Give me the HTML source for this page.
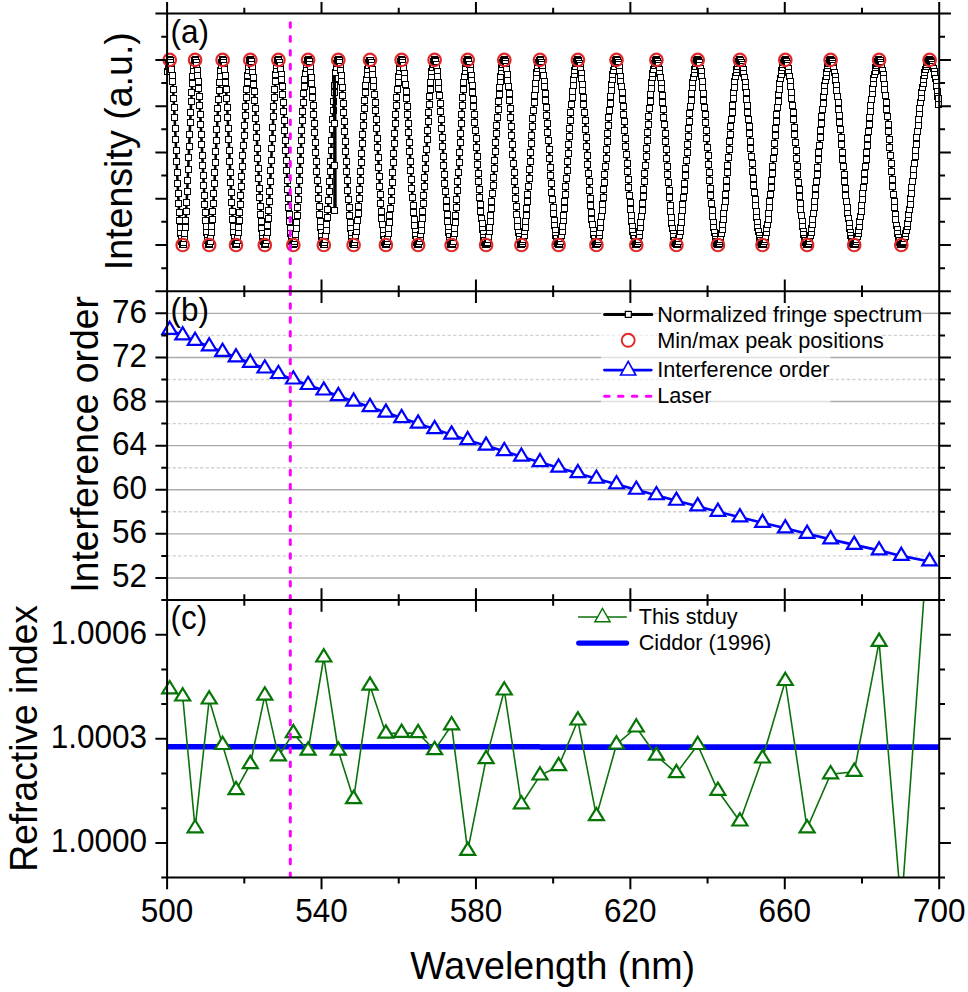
<!DOCTYPE html><html><head><meta charset="utf-8"><style>html,body{margin:0;padding:0;background:#fff;width:968px;height:992px;overflow:hidden}svg{display:block}text{font-family:"Liberation Sans",sans-serif;fill:#000}</style></head><body>
<svg width="968" height="992" viewBox="0 0 968 992">
<defs><clipPath id="ca"><rect x="167.1" y="13.6" width="772.1" height="277.7"/></clipPath><clipPath id="cb"><rect x="167.1" y="291.3" width="772.1" height="308.7"/></clipPath><clipPath id="cc"><rect x="167.1" y="600.0" width="772.1" height="277.6"/></clipPath></defs>
<rect width="968" height="992" fill="#fff"/>
<line x1="167.1" y1="577.95" x2="939.2" y2="577.95" stroke="#aaaaaa" stroke-width="1.4"/>
<line x1="167.1" y1="555.90" x2="939.2" y2="555.90" stroke="#d2d2d2" stroke-width="1.4" stroke-dasharray="3.3 2.2"/>
<line x1="167.1" y1="533.85" x2="939.2" y2="533.85" stroke="#aaaaaa" stroke-width="1.4"/>
<line x1="167.1" y1="511.80" x2="939.2" y2="511.80" stroke="#d2d2d2" stroke-width="1.4" stroke-dasharray="3.3 2.2"/>
<line x1="167.1" y1="489.75" x2="939.2" y2="489.75" stroke="#aaaaaa" stroke-width="1.4"/>
<line x1="167.1" y1="467.70" x2="939.2" y2="467.70" stroke="#d2d2d2" stroke-width="1.4" stroke-dasharray="3.3 2.2"/>
<line x1="167.1" y1="445.65" x2="939.2" y2="445.65" stroke="#aaaaaa" stroke-width="1.4"/>
<line x1="167.1" y1="423.60" x2="939.2" y2="423.60" stroke="#d2d2d2" stroke-width="1.4" stroke-dasharray="3.3 2.2"/>
<line x1="167.1" y1="401.55" x2="601" y2="401.55" stroke="#aaaaaa" stroke-width="1.4"/>
<line x1="601" y1="401.55" x2="830.3" y2="401.55" stroke="#e0e0e0" stroke-width="1.4"/>
<line x1="830.3" y1="401.55" x2="939.2" y2="401.55" stroke="#aaaaaa" stroke-width="1.4"/>
<line x1="167.1" y1="379.50" x2="601" y2="379.50" stroke="#d2d2d2" stroke-width="1.4" stroke-dasharray="3.3 2.2"/>
<line x1="601" y1="379.50" x2="830.3" y2="379.50" stroke="#ededed" stroke-width="1.4" stroke-dasharray="3.3 2.2"/>
<line x1="830.3" y1="379.50" x2="939.2" y2="379.50" stroke="#d2d2d2" stroke-width="1.4" stroke-dasharray="3.3 2.2"/>
<line x1="167.1" y1="357.45" x2="601" y2="357.45" stroke="#aaaaaa" stroke-width="1.4"/>
<line x1="601" y1="357.45" x2="830.3" y2="357.45" stroke="#e0e0e0" stroke-width="1.4"/>
<line x1="830.3" y1="357.45" x2="939.2" y2="357.45" stroke="#aaaaaa" stroke-width="1.4"/>
<line x1="167.1" y1="335.40" x2="601" y2="335.40" stroke="#d2d2d2" stroke-width="1.4" stroke-dasharray="3.3 2.2"/>
<line x1="601" y1="335.40" x2="882.7" y2="335.40" stroke="#ededed" stroke-width="1.4" stroke-dasharray="3.3 2.2"/>
<line x1="882.7" y1="335.40" x2="939.2" y2="335.40" stroke="#d2d2d2" stroke-width="1.4" stroke-dasharray="3.3 2.2"/>
<line x1="167.1" y1="313.35" x2="601" y2="313.35" stroke="#aaaaaa" stroke-width="1.4"/>
<line x1="601" y1="313.35" x2="921.8" y2="313.35" stroke="#e0e0e0" stroke-width="1.4"/>
<line x1="921.8" y1="313.35" x2="939.2" y2="313.35" stroke="#aaaaaa" stroke-width="1.4"/>
<g clip-path="url(#ca)">
<polyline points="167.60,71.56 168.10,66.73 168.60,63.15 169.10,60.87 169.60,59.93 170.10,60.33 170.60,62.09 171.10,65.16 171.60,69.51 172.10,75.08 172.60,81.78 173.11,89.51 173.61,98.16 174.11,107.61 174.61,117.72 175.11,128.34 175.61,139.32 176.11,150.49 176.61,161.68 177.12,172.75 177.62,183.52 178.12,193.83 178.62,203.54 179.12,212.50 179.62,220.58 180.13,227.66 180.63,233.64 181.13,238.42 181.63,241.93 182.13,244.14 182.64,244.99 183.14,244.43 183.64,242.38 184.14,238.87 184.65,233.97 185.15,227.74 185.65,220.29 186.16,211.74 186.66,202.23 187.16,191.91 187.66,180.95 188.17,169.52 188.67,157.82 189.17,146.02 189.68,134.33 190.18,122.93 190.68,112.01 191.19,101.74 191.69,92.30 192.20,83.84 192.70,76.49 193.20,70.37 193.71,65.59 194.21,62.23 194.72,60.34 195.22,59.93 195.73,60.80 196.23,62.82 196.73,65.97 197.24,70.21 197.74,75.50 198.25,81.75 198.75,88.90 199.26,96.86 199.76,105.52 200.27,114.77 200.77,124.51 201.28,134.60 201.78,144.91 202.29,155.32 202.79,165.70 203.30,175.92 203.81,185.83 204.31,195.33 204.82,204.28 205.32,212.57 205.83,220.11 206.34,226.78 206.84,232.51 207.35,237.23 207.85,240.87 208.36,243.39 208.87,244.75 209.37,244.92 209.88,243.83 210.39,241.44 210.89,237.80 211.40,232.96 211.91,226.98 212.41,219.94 212.92,211.96 213.43,203.13 213.94,193.58 214.44,183.46 214.95,172.89 215.46,162.03 215.97,151.04 216.47,140.06 216.98,129.26 217.49,118.78 218.00,108.78 218.50,99.39 219.01,90.76 219.52,83.00 220.03,76.22 220.54,70.52 221.04,65.98 221.55,62.67 222.06,60.64 222.57,59.90 223.08,60.48 223.59,62.37 224.10,65.54 224.61,69.94 225.11,75.52 225.62,82.19 226.13,89.86 226.64,98.43 227.15,107.77 227.66,117.74 228.17,128.21 228.68,139.03 229.19,150.04 229.70,161.08 230.21,172.01 230.72,182.65 231.23,192.87 231.74,202.51 232.25,211.44 232.76,219.53 233.27,226.66 233.78,232.73 234.29,237.65 234.80,241.36 235.31,243.79 235.82,244.92 236.33,244.76 236.84,243.42 237.35,240.94 237.86,237.35 238.37,232.69 238.89,227.01 239.40,220.40 239.91,212.93 240.42,204.69 240.93,195.80 241.44,186.36 241.95,176.49 242.47,166.31 242.98,155.96 243.49,145.56 244.00,135.24 244.51,125.14 245.03,115.39 245.54,106.10 246.05,97.40 246.56,89.39 247.07,82.18 247.59,75.86 248.10,70.51 248.61,66.19 249.12,62.97 249.64,60.88 250.15,59.95 250.66,60.19 251.18,61.56 251.69,64.06 252.20,67.65 252.72,72.29 253.23,77.92 253.74,84.47 254.26,91.86 254.77,100.00 255.28,108.80 255.80,118.13 256.31,127.89 256.82,137.96 257.34,148.21 257.85,158.51 258.37,168.74 258.88,178.77 259.40,188.47 259.91,197.73 260.42,206.42 260.94,214.45 261.45,221.71 261.97,228.11 262.48,233.58 263.00,238.03 263.51,241.42 264.03,243.71 264.54,244.86 265.06,244.84 265.57,243.53 266.09,240.93 266.60,237.09 267.12,232.04 267.63,225.86 268.15,218.64 268.67,210.49 269.18,201.51 269.70,191.83 270.21,181.59 270.73,170.94 271.25,160.02 271.76,148.99 272.28,138.01 272.79,127.24 273.31,116.82 273.83,106.90 274.34,97.64 274.86,89.15 275.38,81.56 275.89,74.98 276.41,69.50 276.93,65.20 277.45,62.14 277.96,60.37 278.48,59.91 279.00,60.63 279.51,62.44 280.03,65.33 280.55,69.24 281.07,74.15 281.58,80.00 282.10,86.70 282.62,94.19 283.14,102.38 283.66,111.16 284.17,120.44 284.69,130.10 285.21,140.02 285.73,150.10 286.25,160.21 286.77,170.23 287.29,180.03 287.80,189.51 288.32,198.55 288.84,207.03 289.36,214.87 289.88,221.96 290.40,228.22 290.92,233.57 291.44,237.95 291.96,241.31 292.48,243.61 293.00,244.81 293.51,244.90 294.03,243.88 294.55,241.74 295.07,238.51 295.59,234.24 296.11,228.97 296.63,222.77 297.15,215.71 297.67,207.88 298.19,199.38 298.72,190.30 299.24,180.76 299.76,170.87 300.28,160.75 300.80,150.53 301.32,140.34 301.84,130.29 302.36,120.50 302.88,111.11 303.40,102.22 303.92,93.95 304.44,86.39 304.97,79.63 305.49,73.77 306.01,68.87 306.53,64.99 307.05,62.18 307.57,60.48 308.10,59.90 308.62,60.40 309.14,61.90 309.66,64.39 310.18,67.83 310.71,72.21 311.23,77.46 311.75,83.52 312.27,90.35 312.80,97.85 313.32,105.95 313.84,114.56 314.36,123.58 314.89,132.92 315.41,142.48 315.93,152.15 316.46,161.82 316.98,171.39 317.50,180.76 318.03,189.81 318.55,198.46 319.07,206.61 319.60,214.16 320.12,221.04 320.64,227.16 321.17,232.47 321.69,236.89 322.22,240.39 322.74,242.93 323.27,244.47 323.79,245.00 324.31,244.43 324.84,242.67 325.36,239.74 325.89,235.69 326.41,230.57 326.94,224.43 327.46,217.37 327.99,209.46 328.51,200.82 329.04,191.55 329.56,181.77 330.09,171.61 330.61,161.21 331.14,150.68 331.66,140.18 332.19,129.84 332.71,119.79 333.24,110.15 333.77,101.07 334.29,92.65 334.82,85.01 335.34,78.24 335.87,72.43 336.40,67.66 336.92,63.99 337.45,61.47 337.98,60.13 338.50,59.98 339.03,60.94 339.56,62.96 340.08,66.03 340.61,70.12 341.14,75.16 341.66,81.11 342.19,87.90 342.72,95.44 343.25,103.66 343.77,112.44 344.30,121.70 344.83,131.32 345.36,141.18 345.88,151.18 346.41,161.20 346.94,171.12 347.47,180.82 348.00,190.18 348.52,199.11 349.05,207.49 349.58,215.22 350.11,222.21 350.64,228.39 351.17,233.67 351.69,238.00 352.22,241.32 352.75,243.60 353.28,244.80 353.81,244.93 354.34,244.08 354.87,242.29 355.40,239.57 355.93,235.97 356.46,231.50 356.98,226.22 357.51,220.18 358.04,213.45 358.57,206.08 359.10,198.16 359.63,189.77 360.16,181.00 360.69,171.93 361.22,162.66 361.75,153.28 362.28,143.89 362.81,134.59 363.34,125.47 363.87,116.63 364.41,108.15 364.94,100.13 365.47,92.65 366.00,85.79 366.53,79.62 367.06,74.20 367.59,69.58 368.12,65.82 368.65,62.96 369.18,61.03 369.72,60.04 370.25,60.01 370.78,60.99 371.31,62.99 371.84,65.97 372.37,69.90 372.91,74.75 373.44,80.45 373.97,86.95 374.50,94.17 375.03,102.04 375.57,110.47 376.10,119.36 376.63,128.62 377.16,138.15 377.70,147.83 378.23,157.57 378.76,167.25 379.30,176.77 379.83,186.02 380.36,194.91 380.90,203.32 381.43,211.17 381.96,218.37 382.50,224.83 383.03,230.50 383.56,235.30 384.10,239.18 384.63,242.10 385.16,244.02 385.70,244.93 386.23,244.80 386.77,243.62 387.30,241.39 387.83,238.16 388.37,233.94 388.90,228.79 389.44,222.77 389.97,215.94 390.51,208.39 391.04,200.20 391.58,191.46 392.11,182.27 392.65,172.73 393.18,162.97 393.72,153.08 394.25,143.18 394.79,133.39 395.32,123.82 395.86,114.57 396.39,105.75 396.93,97.47 397.46,89.82 398.00,82.89 398.54,76.76 399.07,71.49 399.61,67.15 400.14,63.80 400.68,61.46 401.22,60.17 401.75,59.94 402.29,60.70 402.83,62.41 403.36,65.07 403.90,68.63 404.44,73.07 404.97,78.34 405.51,84.39 406.05,91.15 406.58,98.55 407.12,106.51 407.66,114.96 408.20,123.80 408.73,132.94 409.27,142.28 409.81,151.74 410.35,161.20 410.89,170.57 411.42,179.76 411.96,188.65 412.50,197.18 413.04,205.23 413.58,212.73 414.11,219.60 414.65,225.76 415.19,231.16 415.73,235.73 416.27,239.43 416.81,242.21 417.35,244.05 417.88,244.92 418.42,244.82 418.96,243.75 419.50,241.72 420.04,238.75 420.58,234.87 421.12,230.12 421.66,224.55 422.20,218.22 422.74,211.19 423.28,203.55 423.82,195.36 424.36,186.72 424.90,177.71 425.44,168.44 425.98,159.00 426.52,149.48 427.06,140.00 427.60,130.64 428.14,121.52 428.68,112.72 429.22,104.34 429.76,96.47 430.30,89.19 430.84,82.58 431.38,76.71 431.93,71.64 432.47,67.43 433.01,64.12 433.55,61.75 434.09,60.33 434.63,59.90 435.17,60.42 435.72,61.86 436.26,64.21 436.80,67.44 437.34,71.52 437.88,76.42 438.43,82.08 438.97,88.44 439.51,95.45 440.05,103.03 440.59,111.11 441.14,119.61 441.68,128.44 442.22,137.51 442.77,146.73 443.31,156.01 443.85,165.25 444.39,174.37 444.94,183.27 445.48,191.86 446.02,200.06 446.57,207.77 447.11,214.93 447.65,221.46 448.20,227.30 448.74,232.38 449.29,236.66 449.83,240.09 450.37,242.63 450.92,244.26 451.46,244.97 452.01,244.71 452.55,243.42 453.09,241.09 453.64,237.77 454.18,233.49 454.73,228.29 455.27,222.24 455.82,215.39 456.36,207.84 456.91,199.65 457.45,190.94 458.00,181.78 458.54,172.29 459.09,162.58 459.63,152.75 460.18,142.92 460.72,133.19 461.27,123.68 461.82,114.49 462.36,105.73 462.91,97.50 463.45,89.90 464.00,83.00 464.55,76.88 465.09,71.63 465.64,67.29 466.18,63.92 466.73,61.55 467.28,60.21 467.82,59.92 468.37,60.51 468.92,61.89 469.47,64.07 470.01,67.02 470.56,70.71 471.11,75.12 471.65,80.20 472.20,85.91 472.75,92.20 473.30,99.03 473.84,106.31 474.39,114.01 474.94,122.04 475.49,130.34 476.03,138.83 476.58,147.44 477.13,156.10 477.68,164.73 478.23,173.25 478.78,181.59 479.32,189.67 479.87,197.44 480.42,204.80 480.97,211.71 481.52,218.11 482.07,223.92 482.62,229.11 483.17,233.63 483.72,237.43 484.26,240.49 484.81,242.78 485.36,244.27 485.91,244.95 486.46,244.82 487.01,243.86 487.56,242.07 488.11,239.48 488.66,236.10 489.21,231.97 489.76,227.12 490.31,221.60 490.86,215.46 491.41,208.74 491.96,201.52 492.51,193.85 493.06,185.81 493.61,177.47 494.17,168.90 494.72,160.17 495.27,151.38 495.82,142.60 496.37,133.90 496.92,125.37 497.47,117.08 498.02,109.12 498.57,101.54 499.13,94.42 499.68,87.83 500.23,81.82 500.78,76.46 501.33,71.78 501.88,67.83 502.44,64.64 502.99,62.26 503.54,60.69 504.09,59.96 504.65,60.09 505.20,61.16 505.75,63.17 506.30,66.10 506.86,69.92 507.41,74.59 507.96,80.07 508.52,86.29 509.07,93.20 509.62,100.72 510.17,108.77 510.73,117.28 511.28,126.15 511.83,135.29 512.39,144.61 512.94,154.02 513.50,163.41 514.05,172.69 514.60,181.76 515.16,190.53 515.71,198.90 516.27,206.80 516.82,214.13 517.37,220.83 517.93,226.81 518.48,232.03 519.04,236.43 519.59,239.95 520.15,242.56 520.70,244.24 521.26,244.97 521.81,244.77 522.37,243.77 522.92,241.95 523.48,239.35 524.03,235.99 524.59,231.89 525.15,227.09 525.70,221.64 526.26,215.57 526.81,208.95 527.37,201.82 527.92,194.27 528.48,186.34 529.04,178.11 529.59,169.65 530.15,161.05 530.71,152.36 531.26,143.67 531.82,135.06 532.38,126.60 532.93,118.37 533.49,110.44 534.05,102.88 534.60,95.76 535.16,89.14 535.72,83.07 536.28,77.62 536.83,72.83 537.39,68.75 537.95,65.41 538.51,62.83 539.06,61.06 539.62,60.09 540.18,59.94 540.74,60.62 541.29,62.10 541.85,64.40 542.41,67.47 542.97,71.30 543.53,75.85 544.09,81.08 544.65,86.95 545.20,93.41 545.76,100.39 546.32,107.83 546.88,115.67 547.44,123.84 548.00,132.27 548.56,140.88 549.12,149.59 549.68,158.33 550.24,167.02 550.80,175.58 551.36,183.94 551.92,192.01 552.47,199.73 553.03,207.04 553.59,213.85 554.15,220.12 554.72,225.78 555.28,230.79 555.84,235.09 556.40,238.66 556.96,241.46 557.52,243.46 558.08,244.64 558.64,245.00 559.20,244.56 559.76,243.35 560.32,241.39 560.88,238.68 561.44,235.26 562.01,231.14 562.57,226.37 563.13,220.98 563.69,215.01 564.25,208.52 564.81,201.57 565.38,194.20 565.94,186.48 566.50,178.47 567.06,170.25 567.62,161.88 568.19,153.42 568.75,144.96 569.31,136.56 569.87,128.28 570.44,120.22 571.00,112.42 571.56,104.95 572.12,97.88 572.69,91.27 573.25,85.17 573.81,79.64 574.38,74.71 574.94,70.44 575.50,66.86 576.07,63.99 576.63,61.87 577.19,60.51 577.76,59.92 578.32,60.14 578.89,61.19 579.45,63.08 580.01,65.80 580.58,69.30 581.14,73.57 581.71,78.57 582.27,84.24 582.84,90.55 583.40,97.42 583.96,104.79 584.53,112.61 585.09,120.80 585.66,129.27 586.22,137.96 586.79,146.79 587.35,155.67 587.92,164.52 588.49,173.26 589.05,181.81 589.62,190.10 590.18,198.03 590.75,205.55 591.31,212.58 591.88,219.05 592.45,224.91 593.01,230.10 593.58,234.58 594.14,238.30 594.71,241.22 595.28,243.32 595.84,244.59 596.41,245.00 596.98,244.62 597.54,243.52 598.11,241.71 598.68,239.19 599.25,236.00 599.81,232.14 600.38,227.66 600.95,222.59 601.51,216.97 602.08,210.84 602.65,204.24 603.22,197.24 603.79,189.89 604.35,182.24 604.92,174.35 605.49,166.29 606.06,158.12 606.63,149.91 607.19,141.71 607.76,133.60 608.33,125.63 608.90,117.87 609.47,110.39 610.04,103.24 610.61,96.47 611.17,90.15 611.74,84.31 612.31,79.02 612.88,74.30 613.45,70.21 614.02,66.76 614.59,63.99 615.16,61.92 615.73,60.57 616.30,59.95 616.87,60.06 617.44,60.93 618.01,62.54 618.58,64.89 619.15,67.96 619.72,71.72 620.29,76.14 620.86,81.18 621.43,86.81 622.00,92.98 622.57,99.64 623.14,106.73 623.71,114.20 624.29,121.98 624.86,130.01 625.43,138.23 626.00,146.56 626.57,154.95 627.14,163.32 627.71,171.59 628.28,179.72 628.86,187.62 629.43,195.23 630.00,202.49 630.57,209.34 631.14,215.72 631.72,221.58 632.29,226.88 632.86,231.56 633.43,235.59 634.01,238.94 634.58,241.57 635.15,243.47 635.72,244.61 636.30,245.00 636.87,244.63 637.44,243.53 638.02,241.69 638.59,239.14 639.16,235.89 639.74,231.97 640.31,227.42 640.88,222.26 641.46,216.53 642.03,210.30 642.60,203.59 643.18,196.48 643.75,189.01 644.33,181.24 644.90,173.24 645.47,165.07 646.05,156.80 646.62,148.50 647.20,140.22 647.77,132.04 648.35,124.02 648.92,116.24 649.50,108.74 650.07,101.59 650.65,94.86 651.22,88.59 651.80,82.83 652.37,77.64 652.95,73.04 653.52,69.09 654.10,65.82 654.68,63.24 655.25,61.39 655.83,60.27 656.40,59.90 656.98,60.28 657.56,61.42 658.13,63.30 658.71,65.91 659.28,69.24 659.86,73.24 660.44,77.90 661.01,83.16 661.59,89.00 662.17,95.36 662.74,102.18 663.32,109.42 663.90,117.02 664.48,124.91 665.05,133.02 665.63,141.30 666.21,149.67 666.79,158.06 667.36,166.41 667.94,174.64 668.52,182.69 669.10,190.50 669.68,197.99 670.25,205.11 670.83,211.80 671.41,218.00 671.99,223.65 672.57,228.73 673.15,233.17 673.72,236.94 674.30,240.02 674.88,242.38 675.46,243.99 676.04,244.85 676.62,244.95 677.20,244.36 677.78,243.10 678.36,241.17 678.94,238.60 679.52,235.40 680.10,231.59 680.68,227.20 681.26,222.27 681.84,216.82 682.42,210.90 683.00,204.56 683.58,197.83 684.16,190.77 684.74,183.43 685.32,175.85 685.90,168.11 686.48,160.25 687.06,152.33 687.64,144.41 688.22,136.55 688.80,128.81 689.38,121.24 689.96,113.89 690.54,106.83 691.13,100.10 691.71,93.75 692.29,87.84 692.87,82.40 693.45,77.47 694.03,73.10 694.62,69.31 695.20,66.13 695.78,63.58 696.36,61.69 696.95,60.47 697.53,59.93 698.11,60.09 698.69,61.00 699.28,62.66 699.86,65.06 700.44,68.18 701.02,71.99 701.61,76.46 702.19,81.56 702.77,87.24 703.36,93.46 703.94,100.16 704.52,107.30 705.11,114.81 705.69,122.62 706.27,130.69 706.86,138.94 707.44,147.30 708.03,155.70 708.61,164.08 709.19,172.36 709.78,180.48 710.36,188.37 710.95,195.96 711.53,203.20 712.12,210.02 712.70,216.36 713.29,222.18 713.87,227.42 714.46,232.04 715.04,236.00 715.63,239.27 716.21,241.83 716.80,243.64 717.38,244.70 717.97,245.00 718.55,244.60 719.14,243.55 719.72,241.88 720.31,239.57 720.90,236.65 721.48,233.15 722.07,229.08 722.66,224.47 723.24,219.35 723.83,213.77 724.41,207.76 725.00,201.35 725.59,194.61 726.18,187.56 726.76,180.27 727.35,172.78 727.94,165.15 728.52,157.43 729.11,149.67 729.70,141.93 730.29,134.26 730.87,126.72 731.46,119.36 732.05,112.23 732.64,105.38 733.22,98.87 733.81,92.73 734.40,87.01 734.99,81.75 735.58,76.98 736.17,72.75 736.75,69.09 737.34,66.01 737.93,63.54 738.52,61.69 739.11,60.49 739.70,59.94 740.29,60.03 740.88,60.75 741.46,62.08 742.05,64.02 742.64,66.55 743.23,69.66 743.82,73.32 744.41,77.51 745.00,82.21 745.59,87.39 746.18,93.00 746.77,99.01 747.36,105.38 747.95,112.07 748.54,119.03 749.13,126.22 749.72,133.58 750.31,141.08 750.90,148.65 751.50,156.25 752.09,163.82 752.68,171.32 753.27,178.69 753.86,185.89 754.45,192.86 755.04,199.56 755.63,205.94 756.22,211.96 756.82,217.58 757.41,222.76 758.00,227.47 758.59,231.67 759.18,235.34 759.78,238.44 760.37,240.96 760.96,242.89 761.55,244.20 762.14,244.89 762.74,244.95 763.33,244.40 763.92,243.23 764.52,241.46 765.11,239.09 765.70,236.14 766.29,232.64 766.89,228.60 767.48,224.05 768.07,219.02 768.67,213.55 769.26,207.66 769.85,201.41 770.45,194.83 771.04,187.96 771.64,180.86 772.23,173.56 772.82,166.12 773.42,158.59 774.01,151.02 774.61,143.45 775.20,135.95 775.80,128.55 776.39,121.31 776.98,114.28 777.58,107.51 778.17,101.04 778.77,94.91 779.36,89.16 779.96,83.84 780.56,78.98 781.15,74.62 781.75,70.78 782.34,67.48 782.94,64.76 783.53,62.63 784.13,61.10 784.72,60.19 785.32,59.90 785.92,60.27 786.51,61.31 787.11,63.03 787.71,65.41 788.30,68.43 788.90,72.07 789.50,76.31 790.09,81.11 790.69,86.44 791.29,92.25 791.88,98.52 792.48,105.18 793.08,112.19 793.67,119.51 794.27,127.07 794.87,134.82 795.47,142.70 796.06,150.65 796.66,158.62 797.26,166.54 797.86,174.36 798.46,182.02 799.05,189.46 799.65,196.63 800.25,203.47 800.85,209.93 801.45,215.96 802.05,221.53 802.65,226.58 803.24,231.08 803.84,234.99 804.44,238.29 805.04,240.96 805.64,242.96 806.24,244.29 806.84,244.93 807.44,244.91 808.04,244.27 808.64,243.05 809.24,241.25 809.84,238.87 810.44,235.94 811.04,232.47 811.64,228.49 812.24,224.01 812.84,219.08 813.44,213.72 814.04,207.96 814.64,201.84 815.24,195.40 815.84,188.68 816.44,181.73 817.04,174.59 817.64,167.31 818.24,159.93 818.85,152.50 819.45,145.07 820.05,137.68 820.65,130.39 821.25,123.24 821.85,116.28 822.46,109.55 823.06,103.10 823.66,96.96 824.26,91.19 824.86,85.81 825.47,80.86 826.07,76.37 826.67,72.38 827.27,68.90 827.88,65.97 828.48,63.60 829.08,61.80 829.68,60.59 830.29,59.98 830.89,59.97 831.49,60.55 832.10,61.73 832.70,63.49 833.30,65.83 833.91,68.73 834.51,72.16 835.11,76.12 835.72,80.57 836.32,85.48 836.93,90.83 837.53,96.57 838.13,102.68 838.74,109.11 839.34,115.83 839.95,122.78 840.55,129.92 841.16,137.21 841.76,144.60 842.37,152.05 842.97,159.49 843.58,166.89 844.18,174.20 844.79,181.37 845.39,188.36 846.00,195.11 846.60,201.58 847.21,207.74 847.82,213.54 848.42,218.94 849.03,223.91 849.63,228.42 850.24,232.43 850.85,235.92 851.45,238.88 852.06,241.26 852.66,243.07 853.27,244.29 853.88,244.91 854.48,244.94 855.09,244.42 855.70,243.35 856.31,241.75 856.91,239.63 857.52,237.00 858.13,233.87 858.73,230.26 859.34,226.20 859.95,221.70 860.56,216.79 861.17,211.50 861.77,205.87 862.38,199.92 862.99,193.69 863.60,187.22 864.21,180.54 864.81,173.70 865.42,166.73 866.03,159.67 866.64,152.57 867.25,145.47 867.86,138.41 868.47,131.43 869.08,124.57 869.68,117.88 870.29,111.39 870.90,105.14 871.51,99.17 872.12,93.51 872.73,88.20 873.34,83.27 873.95,78.75 874.56,74.67 875.17,71.04 875.78,67.90 876.39,65.25 877.00,63.13 877.61,61.53 878.22,60.47 878.83,59.95 879.44,60.01 880.05,60.74 880.67,62.16 881.28,64.25 881.89,67.01 882.50,70.40 883.11,74.40 883.72,78.99 884.33,84.13 884.94,89.78 885.56,95.90 886.17,102.45 886.78,109.37 887.39,116.62 888.00,124.13 888.61,131.86 889.23,139.74 889.84,147.72 890.45,155.74 891.06,163.74 891.68,171.65 892.29,179.41 892.90,186.98 893.51,194.29 894.13,201.28 894.74,207.91 895.35,214.12 895.97,219.87 896.58,225.11 897.19,229.81 897.81,233.92 898.42,237.42 899.03,240.28 899.65,242.48 900.26,244.00 900.88,244.83 901.49,244.98 902.10,244.63 902.72,243.85 903.33,242.65 903.95,241.03 904.56,239.00 905.18,236.56 905.79,233.73 906.41,230.53 907.02,226.95 907.64,223.03 908.25,218.79 908.87,214.23 909.48,209.38 910.10,204.27 910.71,198.91 911.33,193.33 911.94,187.57 912.56,181.64 913.18,175.57 913.79,169.39 914.41,163.13 915.02,156.83 915.64,150.50 916.26,144.17 916.87,137.89 917.49,131.67 918.11,125.55 918.72,119.56 919.34,113.72 919.96,108.05 920.57,102.60 921.19,97.38 921.81,92.42 922.43,87.73 923.04,83.35 923.66,79.30 924.28,75.59 924.90,72.24 925.51,69.26 926.13,66.68 926.75,64.49 927.37,62.73 927.99,61.38 928.60,60.47 929.22,59.98 929.84,59.93 930.46,60.32 931.08,61.14 931.70,62.40 932.32,64.07 932.93,66.17 933.55,68.67 934.17,71.57 934.79,74.85 935.41,78.50 936.03,82.50 936.65,86.83 937.27,91.47 937.89,96.40 938.30,98.00 938.80,104.40" fill="none" stroke="#000" stroke-width="2.6"/>
</g>
<g fill="#fff" stroke="#000" stroke-width="1"><rect x="164.5" y="68.5" width="6" height="6"/><rect x="165.5" y="63.5" width="6" height="6"/><rect x="165.5" y="60.5" width="6" height="6"/><rect x="166.5" y="57.5" width="6" height="6"/><rect x="166.5" y="56.5" width="6" height="6"/><rect x="167.5" y="57.5" width="6" height="6"/><rect x="167.5" y="59.5" width="6" height="6"/><rect x="168.5" y="62.5" width="6" height="6"/><rect x="168.5" y="66.5" width="6" height="6"/><rect x="169.5" y="72.5" width="6" height="6"/><rect x="169.5" y="78.5" width="6" height="6"/><rect x="170.5" y="86.5" width="6" height="6"/><rect x="170.5" y="95.5" width="6" height="6"/><rect x="171.5" y="104.5" width="6" height="6"/><rect x="171.5" y="114.5" width="6" height="6"/><rect x="172.5" y="125.5" width="6" height="6"/><rect x="172.5" y="136.5" width="6" height="6"/><rect x="173.5" y="147.5" width="6" height="6"/><rect x="173.5" y="158.5" width="6" height="6"/><rect x="174.5" y="169.5" width="6" height="6"/><rect x="174.5" y="180.5" width="6" height="6"/><rect x="175.5" y="190.5" width="6" height="6"/><rect x="175.5" y="200.5" width="6" height="6"/><rect x="176.5" y="209.5" width="6" height="6"/><rect x="176.5" y="217.5" width="6" height="6"/><rect x="177.5" y="224.5" width="6" height="6"/><rect x="177.5" y="230.5" width="6" height="6"/><rect x="178.5" y="235.5" width="6" height="6"/><rect x="178.5" y="238.5" width="6" height="6"/><rect x="179.5" y="241.5" width="6" height="6"/><rect x="179.5" y="241.5" width="6" height="6"/><rect x="180.5" y="241.5" width="6" height="6"/><rect x="180.5" y="239.5" width="6" height="6"/><rect x="181.5" y="235.5" width="6" height="6"/><rect x="181.5" y="230.5" width="6" height="6"/><rect x="182.5" y="224.5" width="6" height="6"/><rect x="182.5" y="217.5" width="6" height="6"/><rect x="183.5" y="208.5" width="6" height="6"/><rect x="183.5" y="199.5" width="6" height="6"/><rect x="184.5" y="188.5" width="6" height="6"/><rect x="184.5" y="177.5" width="6" height="6"/><rect x="185.5" y="166.5" width="6" height="6"/><rect x="185.5" y="154.5" width="6" height="6"/><rect x="186.5" y="143.5" width="6" height="6"/><rect x="186.5" y="131.5" width="6" height="6"/><rect x="187.5" y="119.5" width="6" height="6"/><rect x="187.5" y="109.5" width="6" height="6"/><rect x="188.5" y="98.5" width="6" height="6"/><rect x="188.5" y="89.5" width="6" height="6"/><rect x="189.5" y="80.5" width="6" height="6"/><rect x="189.5" y="73.5" width="6" height="6"/><rect x="190.5" y="67.5" width="6" height="6"/><rect x="190.5" y="62.5" width="6" height="6"/><rect x="191.5" y="59.5" width="6" height="6"/><rect x="191.5" y="57.5" width="6" height="6"/><rect x="192.5" y="56.5" width="6" height="6"/><rect x="192.5" y="57.5" width="6" height="6"/><rect x="193.5" y="59.5" width="6" height="6"/><rect x="193.5" y="62.5" width="6" height="6"/><rect x="194.5" y="67.5" width="6" height="6"/><rect x="194.5" y="72.5" width="6" height="6"/><rect x="195.5" y="78.5" width="6" height="6"/><rect x="195.5" y="85.5" width="6" height="6"/><rect x="196.5" y="93.5" width="6" height="6"/><rect x="196.5" y="102.5" width="6" height="6"/><rect x="197.5" y="111.5" width="6" height="6"/><rect x="197.5" y="121.5" width="6" height="6"/><rect x="198.5" y="131.5" width="6" height="6"/><rect x="198.5" y="141.5" width="6" height="6"/><rect x="199.5" y="152.5" width="6" height="6"/><rect x="199.5" y="162.5" width="6" height="6"/><rect x="200.5" y="172.5" width="6" height="6"/><rect x="200.5" y="182.5" width="6" height="6"/><rect x="201.5" y="192.5" width="6" height="6"/><rect x="201.5" y="201.5" width="6" height="6"/><rect x="202.5" y="209.5" width="6" height="6"/><rect x="202.5" y="217.5" width="6" height="6"/><rect x="203.5" y="223.5" width="6" height="6"/><rect x="203.5" y="229.5" width="6" height="6"/><rect x="204.5" y="234.5" width="6" height="6"/><rect x="204.5" y="237.5" width="6" height="6"/><rect x="205.5" y="240.5" width="6" height="6"/><rect x="205.5" y="241.5" width="6" height="6"/><rect x="206.5" y="241.5" width="6" height="6"/><rect x="206.5" y="240.5" width="6" height="6"/><rect x="207.5" y="238.5" width="6" height="6"/><rect x="207.5" y="234.5" width="6" height="6"/><rect x="208.5" y="229.5" width="6" height="6"/><rect x="208.5" y="223.5" width="6" height="6"/><rect x="209.5" y="216.5" width="6" height="6"/><rect x="209.5" y="208.5" width="6" height="6"/><rect x="210.5" y="200.5" width="6" height="6"/><rect x="210.5" y="190.5" width="6" height="6"/><rect x="211.5" y="180.5" width="6" height="6"/><rect x="211.5" y="169.5" width="6" height="6"/><rect x="212.5" y="159.5" width="6" height="6"/><rect x="212.5" y="148.5" width="6" height="6"/><rect x="213.5" y="137.5" width="6" height="6"/><rect x="213.5" y="126.5" width="6" height="6"/><rect x="214.5" y="115.5" width="6" height="6"/><rect x="214.5" y="105.5" width="6" height="6"/><rect x="215.5" y="96.5" width="6" height="6"/><rect x="216.5" y="87.5" width="6" height="6"/><rect x="216.5" y="79.5" width="6" height="6"/><rect x="217.5" y="73.5" width="6" height="6"/><rect x="217.5" y="67.5" width="6" height="6"/><rect x="218.5" y="62.5" width="6" height="6"/><rect x="218.5" y="59.5" width="6" height="6"/><rect x="219.5" y="57.5" width="6" height="6"/><rect x="219.5" y="56.5" width="6" height="6"/><rect x="220.5" y="57.5" width="6" height="6"/><rect x="220.5" y="59.5" width="6" height="6"/><rect x="221.5" y="62.5" width="6" height="6"/><rect x="221.5" y="66.5" width="6" height="6"/><rect x="222.5" y="72.5" width="6" height="6"/><rect x="222.5" y="79.5" width="6" height="6"/><rect x="223.5" y="86.5" width="6" height="6"/><rect x="223.5" y="95.5" width="6" height="6"/><rect x="224.5" y="104.5" width="6" height="6"/><rect x="224.5" y="114.5" width="6" height="6"/><rect x="225.5" y="125.5" width="6" height="6"/><rect x="225.5" y="136.5" width="6" height="6"/><rect x="226.5" y="147.5" width="6" height="6"/><rect x="226.5" y="158.5" width="6" height="6"/><rect x="227.5" y="169.5" width="6" height="6"/><rect x="227.5" y="179.5" width="6" height="6"/><rect x="228.5" y="189.5" width="6" height="6"/><rect x="228.5" y="199.5" width="6" height="6"/><rect x="229.5" y="208.5" width="6" height="6"/><rect x="229.5" y="216.5" width="6" height="6"/><rect x="230.5" y="223.5" width="6" height="6"/><rect x="230.5" y="229.5" width="6" height="6"/><rect x="231.5" y="234.5" width="6" height="6"/><rect x="231.5" y="238.5" width="6" height="6"/><rect x="232.5" y="240.5" width="6" height="6"/><rect x="232.5" y="241.5" width="6" height="6"/><rect x="233.5" y="241.5" width="6" height="6"/><rect x="233.5" y="240.5" width="6" height="6"/><rect x="234.5" y="237.5" width="6" height="6"/><rect x="234.5" y="234.5" width="6" height="6"/><rect x="235.5" y="229.5" width="6" height="6"/><rect x="235.5" y="224.5" width="6" height="6"/><rect x="236.5" y="217.5" width="6" height="6"/><rect x="236.5" y="209.5" width="6" height="6"/><rect x="237.5" y="201.5" width="6" height="6"/><rect x="237.5" y="192.5" width="6" height="6"/><rect x="238.5" y="183.5" width="6" height="6"/><rect x="238.5" y="173.5" width="6" height="6"/><rect x="239.5" y="163.5" width="6" height="6"/><rect x="239.5" y="152.5" width="6" height="6"/><rect x="240.5" y="142.5" width="6" height="6"/><rect x="241.5" y="132.5" width="6" height="6"/><rect x="241.5" y="122.5" width="6" height="6"/><rect x="242.5" y="112.5" width="6" height="6"/><rect x="242.5" y="103.5" width="6" height="6"/><rect x="243.5" y="94.5" width="6" height="6"/><rect x="243.5" y="86.5" width="6" height="6"/><rect x="244.5" y="79.5" width="6" height="6"/><rect x="244.5" y="72.5" width="6" height="6"/><rect x="245.5" y="67.5" width="6" height="6"/><rect x="245.5" y="63.5" width="6" height="6"/><rect x="246.5" y="59.5" width="6" height="6"/><rect x="246.5" y="57.5" width="6" height="6"/><rect x="247.5" y="56.5" width="6" height="6"/><rect x="247.5" y="57.5" width="6" height="6"/><rect x="248.5" y="58.5" width="6" height="6"/><rect x="248.5" y="61.5" width="6" height="6"/><rect x="249.5" y="64.5" width="6" height="6"/><rect x="249.5" y="69.5" width="6" height="6"/><rect x="250.5" y="74.5" width="6" height="6"/><rect x="250.5" y="81.5" width="6" height="6"/><rect x="251.5" y="88.5" width="6" height="6"/><rect x="251.5" y="97.5" width="6" height="6"/><rect x="252.5" y="105.5" width="6" height="6"/><rect x="252.5" y="115.5" width="6" height="6"/><rect x="253.5" y="124.5" width="6" height="6"/><rect x="253.5" y="134.5" width="6" height="6"/><rect x="254.5" y="145.5" width="6" height="6"/><rect x="254.5" y="155.5" width="6" height="6"/><rect x="255.5" y="165.5" width="6" height="6"/><rect x="255.5" y="175.5" width="6" height="6"/><rect x="256.5" y="185.5" width="6" height="6"/><rect x="256.5" y="194.5" width="6" height="6"/><rect x="257.5" y="203.5" width="6" height="6"/><rect x="257.5" y="211.5" width="6" height="6"/><rect x="258.5" y="218.5" width="6" height="6"/><rect x="258.5" y="225.5" width="6" height="6"/><rect x="259.5" y="230.5" width="6" height="6"/><rect x="259.5" y="235.5" width="6" height="6"/><rect x="260.5" y="238.5" width="6" height="6"/><rect x="261.5" y="240.5" width="6" height="6"/><rect x="261.5" y="241.5" width="6" height="6"/><rect x="262.5" y="241.5" width="6" height="6"/><rect x="262.5" y="240.5" width="6" height="6"/><rect x="263.5" y="237.5" width="6" height="6"/><rect x="263.5" y="234.5" width="6" height="6"/><rect x="264.5" y="229.5" width="6" height="6"/><rect x="264.5" y="222.5" width="6" height="6"/><rect x="265.5" y="215.5" width="6" height="6"/><rect x="265.5" y="207.5" width="6" height="6"/><rect x="266.5" y="198.5" width="6" height="6"/><rect x="266.5" y="188.5" width="6" height="6"/><rect x="267.5" y="178.5" width="6" height="6"/><rect x="267.5" y="167.5" width="6" height="6"/><rect x="268.5" y="157.5" width="6" height="6"/><rect x="268.5" y="145.5" width="6" height="6"/><rect x="269.5" y="135.5" width="6" height="6"/><rect x="269.5" y="124.5" width="6" height="6"/><rect x="270.5" y="113.5" width="6" height="6"/><rect x="270.5" y="103.5" width="6" height="6"/><rect x="271.5" y="94.5" width="6" height="6"/><rect x="271.5" y="86.5" width="6" height="6"/><rect x="272.5" y="78.5" width="6" height="6"/><rect x="272.5" y="71.5" width="6" height="6"/><rect x="273.5" y="66.5" width="6" height="6"/><rect x="273.5" y="62.5" width="6" height="6"/><rect x="274.5" y="59.5" width="6" height="6"/><rect x="274.5" y="57.5" width="6" height="6"/><rect x="275.5" y="56.5" width="6" height="6"/><rect x="275.5" y="57.5" width="6" height="6"/><rect x="276.5" y="59.5" width="6" height="6"/><rect x="277.5" y="62.5" width="6" height="6"/><rect x="277.5" y="66.5" width="6" height="6"/><rect x="278.5" y="71.5" width="6" height="6"/><rect x="278.5" y="76.5" width="6" height="6"/><rect x="279.5" y="83.5" width="6" height="6"/><rect x="279.5" y="91.5" width="6" height="6"/><rect x="280.5" y="99.5" width="6" height="6"/><rect x="280.5" y="108.5" width="6" height="6"/><rect x="281.5" y="117.5" width="6" height="6"/><rect x="281.5" y="127.5" width="6" height="6"/><rect x="282.5" y="137.5" width="6" height="6"/><rect x="282.5" y="147.5" width="6" height="6"/><rect x="283.5" y="157.5" width="6" height="6"/><rect x="283.5" y="167.5" width="6" height="6"/><rect x="284.5" y="177.5" width="6" height="6"/><rect x="284.5" y="186.5" width="6" height="6"/><rect x="285.5" y="195.5" width="6" height="6"/><rect x="285.5" y="204.5" width="6" height="6"/><rect x="286.5" y="211.5" width="6" height="6"/><rect x="286.5" y="218.5" width="6" height="6"/><rect x="287.5" y="225.5" width="6" height="6"/><rect x="287.5" y="230.5" width="6" height="6"/><rect x="288.5" y="234.5" width="6" height="6"/><rect x="288.5" y="238.5" width="6" height="6"/><rect x="289.5" y="240.5" width="6" height="6"/><rect x="289.5" y="241.5" width="6" height="6"/><rect x="290.5" y="241.5" width="6" height="6"/><rect x="291.5" y="240.5" width="6" height="6"/><rect x="291.5" y="238.5" width="6" height="6"/><rect x="292.5" y="235.5" width="6" height="6"/><rect x="292.5" y="231.5" width="6" height="6"/><rect x="293.5" y="225.5" width="6" height="6"/><rect x="293.5" y="219.5" width="6" height="6"/><rect x="294.5" y="212.5" width="6" height="6"/><rect x="294.5" y="204.5" width="6" height="6"/><rect x="295.5" y="196.5" width="6" height="6"/><rect x="295.5" y="187.5" width="6" height="6"/><rect x="296.5" y="177.5" width="6" height="6"/><rect x="296.5" y="167.5" width="6" height="6"/><rect x="297.5" y="157.5" width="6" height="6"/><rect x="297.5" y="147.5" width="6" height="6"/><rect x="298.5" y="137.5" width="6" height="6"/><rect x="298.5" y="127.5" width="6" height="6"/><rect x="299.5" y="117.5" width="6" height="6"/><rect x="299.5" y="108.5" width="6" height="6"/><rect x="300.5" y="99.5" width="6" height="6"/><rect x="300.5" y="90.5" width="6" height="6"/><rect x="301.5" y="83.5" width="6" height="6"/><rect x="301.5" y="76.5" width="6" height="6"/><rect x="302.5" y="70.5" width="6" height="6"/><rect x="303.5" y="65.5" width="6" height="6"/><rect x="303.5" y="61.5" width="6" height="6"/><rect x="304.5" y="59.5" width="6" height="6"/><rect x="304.5" y="57.5" width="6" height="6"/><rect x="305.5" y="56.5" width="6" height="6"/><rect x="305.5" y="57.5" width="6" height="6"/><rect x="306.5" y="58.5" width="6" height="6"/><rect x="306.5" y="61.5" width="6" height="6"/><rect x="307.5" y="64.5" width="6" height="6"/><rect x="307.5" y="69.5" width="6" height="6"/><rect x="308.5" y="74.5" width="6" height="6"/><rect x="308.5" y="80.5" width="6" height="6"/><rect x="309.5" y="87.5" width="6" height="6"/><rect x="309.5" y="94.5" width="6" height="6"/><rect x="310.5" y="102.5" width="6" height="6"/><rect x="310.5" y="111.5" width="6" height="6"/><rect x="311.5" y="120.5" width="6" height="6"/><rect x="311.5" y="129.5" width="6" height="6"/><rect x="312.5" y="139.5" width="6" height="6"/><rect x="312.5" y="149.5" width="6" height="6"/><rect x="313.5" y="158.5" width="6" height="6"/><rect x="313.5" y="168.5" width="6" height="6"/><rect x="314.5" y="177.5" width="6" height="6"/><rect x="315.5" y="186.5" width="6" height="6"/><rect x="315.5" y="195.5" width="6" height="6"/><rect x="316.5" y="203.5" width="6" height="6"/><rect x="316.5" y="211.5" width="6" height="6"/><rect x="317.5" y="218.5" width="6" height="6"/><rect x="317.5" y="224.5" width="6" height="6"/><rect x="318.5" y="229.5" width="6" height="6"/><rect x="318.5" y="233.5" width="6" height="6"/><rect x="319.5" y="237.5" width="6" height="6"/><rect x="319.5" y="239.5" width="6" height="6"/><rect x="320.5" y="241.5" width="6" height="6"/><rect x="320.5" y="241.5" width="6" height="6"/><rect x="321.5" y="241.5" width="6" height="6"/><rect x="321.5" y="239.5" width="6" height="6"/><rect x="322.5" y="236.5" width="6" height="6"/><rect x="322.5" y="232.5" width="6" height="6"/><rect x="323.5" y="227.5" width="6" height="6"/><rect x="323.5" y="221.5" width="6" height="6"/><rect x="324.5" y="214.5" width="6" height="6"/><rect x="324.5" y="206.5" width="6" height="6"/><rect x="325.5" y="197.5" width="6" height="6"/><rect x="326.5" y="188.5" width="6" height="6"/><rect x="326.5" y="178.5" width="6" height="6"/><rect x="327.5" y="168.5" width="6" height="6"/><rect x="327.5" y="158.5" width="6" height="6"/><rect x="328.5" y="147.5" width="6" height="6"/><rect x="328.5" y="137.5" width="6" height="6"/><rect x="329.5" y="126.5" width="6" height="6"/><rect x="329.5" y="116.5" width="6" height="6"/><rect x="330.5" y="107.5" width="6" height="6"/><rect x="330.5" y="98.5" width="6" height="6"/><rect x="331.5" y="89.5" width="6" height="6"/><rect x="331.5" y="82.5" width="6" height="6"/><rect x="332.5" y="75.5" width="6" height="6"/><rect x="332.5" y="69.5" width="6" height="6"/><rect x="333.5" y="64.5" width="6" height="6"/><rect x="333.5" y="60.5" width="6" height="6"/><rect x="334.5" y="58.5" width="6" height="6"/><rect x="334.5" y="57.5" width="6" height="6"/><rect x="335.5" y="56.5" width="6" height="6"/><rect x="336.5" y="57.5" width="6" height="6"/><rect x="336.5" y="59.5" width="6" height="6"/><rect x="337.5" y="63.5" width="6" height="6"/><rect x="337.5" y="67.5" width="6" height="6"/><rect x="338.5" y="72.5" width="6" height="6"/><rect x="338.5" y="78.5" width="6" height="6"/><rect x="339.5" y="84.5" width="6" height="6"/><rect x="339.5" y="92.5" width="6" height="6"/><rect x="340.5" y="100.5" width="6" height="6"/><rect x="340.5" y="109.5" width="6" height="6"/><rect x="341.5" y="118.5" width="6" height="6"/><rect x="341.5" y="128.5" width="6" height="6"/><rect x="342.5" y="138.5" width="6" height="6"/><rect x="342.5" y="148.5" width="6" height="6"/><rect x="343.5" y="158.5" width="6" height="6"/><rect x="343.5" y="168.5" width="6" height="6"/><rect x="344.5" y="177.5" width="6" height="6"/><rect x="344.5" y="187.5" width="6" height="6"/><rect x="345.5" y="196.5" width="6" height="6"/><rect x="346.5" y="204.5" width="6" height="6"/><rect x="346.5" y="212.5" width="6" height="6"/><rect x="347.5" y="219.5" width="6" height="6"/><rect x="347.5" y="225.5" width="6" height="6"/><rect x="348.5" y="230.5" width="6" height="6"/><rect x="348.5" y="235.5" width="6" height="6"/><rect x="349.5" y="238.5" width="6" height="6"/><rect x="349.5" y="240.5" width="6" height="6"/><rect x="350.5" y="241.5" width="6" height="6"/><rect x="350.5" y="241.5" width="6" height="6"/><rect x="351.5" y="241.5" width="6" height="6"/><rect x="351.5" y="239.5" width="6" height="6"/><rect x="352.5" y="236.5" width="6" height="6"/><rect x="352.5" y="232.5" width="6" height="6"/><rect x="353.5" y="228.5" width="6" height="6"/><rect x="353.5" y="223.5" width="6" height="6"/><rect x="354.5" y="217.5" width="6" height="6"/><rect x="355.5" y="210.5" width="6" height="6"/><rect x="355.5" y="203.5" width="6" height="6"/><rect x="356.5" y="195.5" width="6" height="6"/><rect x="356.5" y="186.5" width="6" height="6"/><rect x="357.5" y="177.5" width="6" height="6"/><rect x="357.5" y="168.5" width="6" height="6"/><rect x="358.5" y="159.5" width="6" height="6"/><rect x="358.5" y="150.5" width="6" height="6"/><rect x="359.5" y="140.5" width="6" height="6"/><rect x="359.5" y="131.5" width="6" height="6"/><rect x="360.5" y="122.5" width="6" height="6"/><rect x="360.5" y="113.5" width="6" height="6"/><rect x="361.5" y="105.5" width="6" height="6"/><rect x="361.5" y="97.5" width="6" height="6"/><rect x="362.5" y="89.5" width="6" height="6"/><rect x="362.5" y="82.5" width="6" height="6"/><rect x="363.5" y="76.5" width="6" height="6"/><rect x="364.5" y="71.5" width="6" height="6"/><rect x="364.5" y="66.5" width="6" height="6"/><rect x="365.5" y="62.5" width="6" height="6"/><rect x="365.5" y="59.5" width="6" height="6"/><rect x="366.5" y="58.5" width="6" height="6"/><rect x="366.5" y="57.5" width="6" height="6"/><rect x="367.5" y="57.5" width="6" height="6"/><rect x="367.5" y="57.5" width="6" height="6"/><rect x="368.5" y="59.5" width="6" height="6"/><rect x="368.5" y="62.5" width="6" height="6"/><rect x="369.5" y="66.5" width="6" height="6"/><rect x="369.5" y="71.5" width="6" height="6"/><rect x="370.5" y="77.5" width="6" height="6"/><rect x="370.5" y="83.5" width="6" height="6"/><rect x="371.5" y="91.5" width="6" height="6"/><rect x="372.5" y="99.5" width="6" height="6"/><rect x="372.5" y="107.5" width="6" height="6"/><rect x="373.5" y="116.5" width="6" height="6"/><rect x="373.5" y="125.5" width="6" height="6"/><rect x="374.5" y="135.5" width="6" height="6"/><rect x="374.5" y="144.5" width="6" height="6"/><rect x="375.5" y="154.5" width="6" height="6"/><rect x="375.5" y="164.5" width="6" height="6"/><rect x="376.5" y="173.5" width="6" height="6"/><rect x="376.5" y="183.5" width="6" height="6"/><rect x="377.5" y="191.5" width="6" height="6"/><rect x="377.5" y="200.5" width="6" height="6"/><rect x="378.5" y="208.5" width="6" height="6"/><rect x="378.5" y="215.5" width="6" height="6"/><rect x="379.5" y="221.5" width="6" height="6"/><rect x="380.5" y="227.5" width="6" height="6"/><rect x="380.5" y="232.5" width="6" height="6"/><rect x="381.5" y="236.5" width="6" height="6"/><rect x="381.5" y="239.5" width="6" height="6"/><rect x="382.5" y="241.5" width="6" height="6"/><rect x="382.5" y="241.5" width="6" height="6"/><rect x="383.5" y="241.5" width="6" height="6"/><rect x="383.5" y="240.5" width="6" height="6"/><rect x="384.5" y="238.5" width="6" height="6"/><rect x="384.5" y="235.5" width="6" height="6"/><rect x="385.5" y="230.5" width="6" height="6"/><rect x="385.5" y="225.5" width="6" height="6"/><rect x="386.5" y="219.5" width="6" height="6"/><rect x="386.5" y="212.5" width="6" height="6"/><rect x="387.5" y="205.5" width="6" height="6"/><rect x="388.5" y="197.5" width="6" height="6"/><rect x="388.5" y="188.5" width="6" height="6"/><rect x="389.5" y="179.5" width="6" height="6"/><rect x="389.5" y="169.5" width="6" height="6"/><rect x="390.5" y="159.5" width="6" height="6"/><rect x="390.5" y="150.5" width="6" height="6"/><rect x="391.5" y="140.5" width="6" height="6"/><rect x="391.5" y="130.5" width="6" height="6"/><rect x="392.5" y="120.5" width="6" height="6"/><rect x="392.5" y="111.5" width="6" height="6"/><rect x="393.5" y="102.5" width="6" height="6"/><rect x="393.5" y="94.5" width="6" height="6"/><rect x="394.5" y="86.5" width="6" height="6"/><rect x="395.5" y="79.5" width="6" height="6"/><rect x="395.5" y="73.5" width="6" height="6"/><rect x="396.5" y="68.5" width="6" height="6"/><rect x="396.5" y="64.5" width="6" height="6"/><rect x="397.5" y="60.5" width="6" height="6"/><rect x="397.5" y="58.5" width="6" height="6"/><rect x="398.5" y="57.5" width="6" height="6"/><rect x="398.5" y="56.5" width="6" height="6"/><rect x="399.5" y="57.5" width="6" height="6"/><rect x="399.5" y="59.5" width="6" height="6"/><rect x="400.5" y="62.5" width="6" height="6"/><rect x="400.5" y="65.5" width="6" height="6"/><rect x="401.5" y="70.5" width="6" height="6"/><rect x="401.5" y="75.5" width="6" height="6"/><rect x="402.5" y="81.5" width="6" height="6"/><rect x="403.5" y="88.5" width="6" height="6"/><rect x="403.5" y="95.5" width="6" height="6"/><rect x="404.5" y="103.5" width="6" height="6"/><rect x="404.5" y="111.5" width="6" height="6"/><rect x="405.5" y="120.5" width="6" height="6"/><rect x="405.5" y="129.5" width="6" height="6"/><rect x="406.5" y="139.5" width="6" height="6"/><rect x="406.5" y="148.5" width="6" height="6"/><rect x="407.5" y="158.5" width="6" height="6"/><rect x="407.5" y="167.5" width="6" height="6"/><rect x="408.5" y="176.5" width="6" height="6"/><rect x="408.5" y="185.5" width="6" height="6"/><rect x="409.5" y="194.5" width="6" height="6"/><rect x="410.5" y="202.5" width="6" height="6"/><rect x="410.5" y="209.5" width="6" height="6"/><rect x="411.5" y="216.5" width="6" height="6"/><rect x="411.5" y="222.5" width="6" height="6"/><rect x="412.5" y="228.5" width="6" height="6"/><rect x="412.5" y="232.5" width="6" height="6"/><rect x="413.5" y="236.5" width="6" height="6"/><rect x="413.5" y="239.5" width="6" height="6"/><rect x="414.5" y="241.5" width="6" height="6"/><rect x="414.5" y="241.5" width="6" height="6"/><rect x="415.5" y="241.5" width="6" height="6"/><rect x="415.5" y="240.5" width="6" height="6"/><rect x="416.5" y="238.5" width="6" height="6"/><rect x="417.5" y="235.5" width="6" height="6"/><rect x="417.5" y="231.5" width="6" height="6"/><rect x="418.5" y="227.5" width="6" height="6"/><rect x="418.5" y="221.5" width="6" height="6"/><rect x="419.5" y="215.5" width="6" height="6"/><rect x="419.5" y="208.5" width="6" height="6"/><rect x="420.5" y="200.5" width="6" height="6"/><rect x="420.5" y="192.5" width="6" height="6"/><rect x="421.5" y="183.5" width="6" height="6"/><rect x="421.5" y="174.5" width="6" height="6"/><rect x="422.5" y="165.5" width="6" height="6"/><rect x="422.5" y="155.5" width="6" height="6"/><rect x="423.5" y="146.5" width="6" height="6"/><rect x="424.5" y="136.5" width="6" height="6"/><rect x="424.5" y="127.5" width="6" height="6"/><rect x="425.5" y="118.5" width="6" height="6"/><rect x="425.5" y="109.5" width="6" height="6"/><rect x="426.5" y="101.5" width="6" height="6"/><rect x="426.5" y="93.5" width="6" height="6"/><rect x="427.5" y="86.5" width="6" height="6"/><rect x="427.5" y="79.5" width="6" height="6"/><rect x="428.5" y="73.5" width="6" height="6"/><rect x="428.5" y="68.5" width="6" height="6"/><rect x="429.5" y="64.5" width="6" height="6"/><rect x="430.5" y="61.5" width="6" height="6"/><rect x="430.5" y="58.5" width="6" height="6"/><rect x="431.5" y="57.5" width="6" height="6"/><rect x="431.5" y="56.5" width="6" height="6"/><rect x="432.5" y="57.5" width="6" height="6"/><rect x="432.5" y="58.5" width="6" height="6"/><rect x="433.5" y="61.5" width="6" height="6"/><rect x="433.5" y="64.5" width="6" height="6"/><rect x="434.5" y="68.5" width="6" height="6"/><rect x="434.5" y="73.5" width="6" height="6"/><rect x="435.5" y="79.5" width="6" height="6"/><rect x="435.5" y="85.5" width="6" height="6"/><rect x="436.5" y="92.5" width="6" height="6"/><rect x="437.5" y="100.5" width="6" height="6"/><rect x="437.5" y="108.5" width="6" height="6"/><rect x="438.5" y="116.5" width="6" height="6"/><rect x="438.5" y="125.5" width="6" height="6"/><rect x="439.5" y="134.5" width="6" height="6"/><rect x="439.5" y="143.5" width="6" height="6"/><rect x="440.5" y="153.5" width="6" height="6"/><rect x="440.5" y="162.5" width="6" height="6"/><rect x="441.5" y="171.5" width="6" height="6"/><rect x="441.5" y="180.5" width="6" height="6"/><rect x="442.5" y="188.5" width="6" height="6"/><rect x="443.5" y="197.5" width="6" height="6"/><rect x="443.5" y="204.5" width="6" height="6"/><rect x="444.5" y="211.5" width="6" height="6"/><rect x="444.5" y="218.5" width="6" height="6"/><rect x="445.5" y="224.5" width="6" height="6"/><rect x="445.5" y="229.5" width="6" height="6"/><rect x="446.5" y="233.5" width="6" height="6"/><rect x="446.5" y="237.5" width="6" height="6"/><rect x="447.5" y="239.5" width="6" height="6"/><rect x="447.5" y="241.5" width="6" height="6"/><rect x="448.5" y="241.5" width="6" height="6"/><rect x="449.5" y="241.5" width="6" height="6"/><rect x="449.5" y="240.5" width="6" height="6"/><rect x="450.5" y="238.5" width="6" height="6"/><rect x="450.5" y="234.5" width="6" height="6"/><rect x="451.5" y="230.5" width="6" height="6"/><rect x="451.5" y="225.5" width="6" height="6"/><rect x="452.5" y="219.5" width="6" height="6"/><rect x="452.5" y="212.5" width="6" height="6"/><rect x="453.5" y="204.5" width="6" height="6"/><rect x="453.5" y="196.5" width="6" height="6"/><rect x="454.5" y="187.5" width="6" height="6"/><rect x="454.5" y="178.5" width="6" height="6"/><rect x="455.5" y="169.5" width="6" height="6"/><rect x="456.5" y="159.5" width="6" height="6"/><rect x="456.5" y="149.5" width="6" height="6"/><rect x="457.5" y="139.5" width="6" height="6"/><rect x="457.5" y="130.5" width="6" height="6"/><rect x="458.5" y="120.5" width="6" height="6"/><rect x="458.5" y="111.5" width="6" height="6"/><rect x="459.5" y="102.5" width="6" height="6"/><rect x="459.5" y="94.5" width="6" height="6"/><rect x="460.5" y="86.5" width="6" height="6"/><rect x="460.5" y="79.5" width="6" height="6"/><rect x="461.5" y="73.5" width="6" height="6"/><rect x="462.5" y="68.5" width="6" height="6"/><rect x="462.5" y="64.5" width="6" height="6"/><rect x="463.5" y="60.5" width="6" height="6"/><rect x="463.5" y="58.5" width="6" height="6"/><rect x="464.5" y="57.5" width="6" height="6"/><rect x="464.5" y="56.5" width="6" height="6"/><rect x="465.5" y="57.5" width="6" height="6"/><rect x="465.5" y="58.5" width="6" height="6"/><rect x="466.5" y="61.5" width="6" height="6"/><rect x="467.5" y="64.5" width="6" height="6"/><rect x="467.5" y="67.5" width="6" height="6"/><rect x="468.5" y="72.5" width="6" height="6"/><rect x="468.5" y="77.5" width="6" height="6"/><rect x="469.5" y="82.5" width="6" height="6"/><rect x="469.5" y="89.5" width="6" height="6"/><rect x="470.5" y="96.5" width="6" height="6"/><rect x="470.5" y="103.5" width="6" height="6"/><rect x="471.5" y="111.5" width="6" height="6"/><rect x="471.5" y="119.5" width="6" height="6"/><rect x="472.5" y="127.5" width="6" height="6"/><rect x="473.5" y="135.5" width="6" height="6"/><rect x="473.5" y="144.5" width="6" height="6"/><rect x="474.5" y="153.5" width="6" height="6"/><rect x="474.5" y="161.5" width="6" height="6"/><rect x="475.5" y="170.5" width="6" height="6"/><rect x="475.5" y="178.5" width="6" height="6"/><rect x="476.5" y="186.5" width="6" height="6"/><rect x="476.5" y="194.5" width="6" height="6"/><rect x="477.5" y="201.5" width="6" height="6"/><rect x="477.5" y="208.5" width="6" height="6"/><rect x="478.5" y="215.5" width="6" height="6"/><rect x="479.5" y="220.5" width="6" height="6"/><rect x="479.5" y="226.5" width="6" height="6"/><rect x="480.5" y="230.5" width="6" height="6"/><rect x="480.5" y="234.5" width="6" height="6"/><rect x="481.5" y="237.5" width="6" height="6"/><rect x="481.5" y="239.5" width="6" height="6"/><rect x="482.5" y="241.5" width="6" height="6"/><rect x="482.5" y="241.5" width="6" height="6"/><rect x="483.5" y="241.5" width="6" height="6"/><rect x="484.5" y="240.5" width="6" height="6"/><rect x="484.5" y="239.5" width="6" height="6"/><rect x="485.5" y="236.5" width="6" height="6"/><rect x="485.5" y="233.5" width="6" height="6"/><rect x="486.5" y="228.5" width="6" height="6"/><rect x="486.5" y="224.5" width="6" height="6"/><rect x="487.5" y="218.5" width="6" height="6"/><rect x="487.5" y="212.5" width="6" height="6"/><rect x="488.5" y="205.5" width="6" height="6"/><rect x="488.5" y="198.5" width="6" height="6"/><rect x="489.5" y="190.5" width="6" height="6"/><rect x="490.5" y="182.5" width="6" height="6"/><rect x="490.5" y="174.5" width="6" height="6"/><rect x="491.5" y="165.5" width="6" height="6"/><rect x="491.5" y="157.5" width="6" height="6"/><rect x="492.5" y="148.5" width="6" height="6"/><rect x="492.5" y="139.5" width="6" height="6"/><rect x="493.5" y="130.5" width="6" height="6"/><rect x="493.5" y="122.5" width="6" height="6"/><rect x="494.5" y="114.5" width="6" height="6"/><rect x="495.5" y="106.5" width="6" height="6"/><rect x="495.5" y="98.5" width="6" height="6"/><rect x="496.5" y="91.5" width="6" height="6"/><rect x="496.5" y="84.5" width="6" height="6"/><rect x="497.5" y="78.5" width="6" height="6"/><rect x="497.5" y="73.5" width="6" height="6"/><rect x="498.5" y="68.5" width="6" height="6"/><rect x="498.5" y="64.5" width="6" height="6"/><rect x="499.5" y="61.5" width="6" height="6"/><rect x="499.5" y="59.5" width="6" height="6"/><rect x="500.5" y="57.5" width="6" height="6"/><rect x="501.5" y="56.5" width="6" height="6"/><rect x="501.5" y="57.5" width="6" height="6"/><rect x="502.5" y="58.5" width="6" height="6"/><rect x="502.5" y="60.5" width="6" height="6"/><rect x="503.5" y="63.5" width="6" height="6"/><rect x="503.5" y="66.5" width="6" height="6"/><rect x="504.5" y="71.5" width="6" height="6"/><rect x="504.5" y="77.5" width="6" height="6"/><rect x="505.5" y="83.5" width="6" height="6"/><rect x="506.5" y="90.5" width="6" height="6"/><rect x="506.5" y="97.5" width="6" height="6"/><rect x="507.5" y="105.5" width="6" height="6"/><rect x="507.5" y="114.5" width="6" height="6"/><rect x="508.5" y="123.5" width="6" height="6"/><rect x="508.5" y="132.5" width="6" height="6"/><rect x="509.5" y="141.5" width="6" height="6"/><rect x="509.5" y="151.5" width="6" height="6"/><rect x="510.5" y="160.5" width="6" height="6"/><rect x="511.5" y="169.5" width="6" height="6"/><rect x="511.5" y="178.5" width="6" height="6"/><rect x="512.5" y="187.5" width="6" height="6"/><rect x="512.5" y="195.5" width="6" height="6"/><rect x="513.5" y="203.5" width="6" height="6"/><rect x="513.5" y="211.5" width="6" height="6"/><rect x="514.5" y="217.5" width="6" height="6"/><rect x="514.5" y="223.5" width="6" height="6"/><rect x="515.5" y="229.5" width="6" height="6"/><rect x="516.5" y="233.5" width="6" height="6"/><rect x="516.5" y="236.5" width="6" height="6"/><rect x="517.5" y="239.5" width="6" height="6"/><rect x="517.5" y="241.5" width="6" height="6"/><rect x="518.5" y="241.5" width="6" height="6"/><rect x="518.5" y="241.5" width="6" height="6"/><rect x="519.5" y="240.5" width="6" height="6"/><rect x="519.5" y="238.5" width="6" height="6"/><rect x="520.5" y="236.5" width="6" height="6"/><rect x="521.5" y="232.5" width="6" height="6"/><rect x="521.5" y="228.5" width="6" height="6"/><rect x="522.5" y="224.5" width="6" height="6"/><rect x="522.5" y="218.5" width="6" height="6"/><rect x="523.5" y="212.5" width="6" height="6"/><rect x="523.5" y="205.5" width="6" height="6"/><rect x="524.5" y="198.5" width="6" height="6"/><rect x="524.5" y="191.5" width="6" height="6"/><rect x="525.5" y="183.5" width="6" height="6"/><rect x="526.5" y="175.5" width="6" height="6"/><rect x="526.5" y="166.5" width="6" height="6"/><rect x="527.5" y="158.5" width="6" height="6"/><rect x="527.5" y="149.5" width="6" height="6"/><rect x="528.5" y="140.5" width="6" height="6"/><rect x="528.5" y="132.5" width="6" height="6"/><rect x="529.5" y="123.5" width="6" height="6"/><rect x="529.5" y="115.5" width="6" height="6"/><rect x="530.5" y="107.5" width="6" height="6"/><rect x="531.5" y="99.5" width="6" height="6"/><rect x="531.5" y="92.5" width="6" height="6"/><rect x="532.5" y="86.5" width="6" height="6"/><rect x="532.5" y="80.5" width="6" height="6"/><rect x="533.5" y="74.5" width="6" height="6"/><rect x="533.5" y="69.5" width="6" height="6"/><rect x="534.5" y="65.5" width="6" height="6"/><rect x="534.5" y="62.5" width="6" height="6"/><rect x="535.5" y="59.5" width="6" height="6"/><rect x="536.5" y="58.5" width="6" height="6"/><rect x="536.5" y="57.5" width="6" height="6"/><rect x="537.5" y="56.5" width="6" height="6"/><rect x="537.5" y="57.5" width="6" height="6"/><rect x="538.5" y="59.5" width="6" height="6"/><rect x="538.5" y="61.5" width="6" height="6"/><rect x="539.5" y="64.5" width="6" height="6"/><rect x="539.5" y="68.5" width="6" height="6"/><rect x="540.5" y="72.5" width="6" height="6"/><rect x="541.5" y="78.5" width="6" height="6"/><rect x="541.5" y="83.5" width="6" height="6"/><rect x="542.5" y="90.5" width="6" height="6"/><rect x="542.5" y="97.5" width="6" height="6"/><rect x="543.5" y="104.5" width="6" height="6"/><rect x="543.5" y="112.5" width="6" height="6"/><rect x="544.5" y="120.5" width="6" height="6"/><rect x="544.5" y="129.5" width="6" height="6"/><rect x="545.5" y="137.5" width="6" height="6"/><rect x="546.5" y="146.5" width="6" height="6"/><rect x="546.5" y="155.5" width="6" height="6"/><rect x="547.5" y="164.5" width="6" height="6"/><rect x="547.5" y="172.5" width="6" height="6"/><rect x="548.5" y="180.5" width="6" height="6"/><rect x="548.5" y="189.5" width="6" height="6"/><rect x="549.5" y="196.5" width="6" height="6"/><rect x="550.5" y="204.5" width="6" height="6"/><rect x="550.5" y="210.5" width="6" height="6"/><rect x="551.5" y="217.5" width="6" height="6"/><rect x="551.5" y="222.5" width="6" height="6"/><rect x="552.5" y="227.5" width="6" height="6"/><rect x="552.5" y="232.5" width="6" height="6"/><rect x="553.5" y="235.5" width="6" height="6"/><rect x="553.5" y="238.5" width="6" height="6"/><rect x="554.5" y="240.5" width="6" height="6"/><rect x="555.5" y="241.5" width="6" height="6"/><rect x="555.5" y="241.5" width="6" height="6"/><rect x="556.5" y="241.5" width="6" height="6"/><rect x="556.5" y="240.5" width="6" height="6"/><rect x="557.5" y="238.5" width="6" height="6"/><rect x="557.5" y="235.5" width="6" height="6"/><rect x="558.5" y="232.5" width="6" height="6"/><rect x="559.5" y="228.5" width="6" height="6"/><rect x="559.5" y="223.5" width="6" height="6"/><rect x="560.5" y="217.5" width="6" height="6"/><rect x="560.5" y="212.5" width="6" height="6"/><rect x="561.5" y="205.5" width="6" height="6"/><rect x="561.5" y="198.5" width="6" height="6"/><rect x="562.5" y="191.5" width="6" height="6"/><rect x="562.5" y="183.5" width="6" height="6"/><rect x="563.5" y="175.5" width="6" height="6"/><rect x="564.5" y="167.5" width="6" height="6"/><rect x="564.5" y="158.5" width="6" height="6"/><rect x="565.5" y="150.5" width="6" height="6"/><rect x="565.5" y="141.5" width="6" height="6"/><rect x="566.5" y="133.5" width="6" height="6"/><rect x="566.5" y="125.5" width="6" height="6"/><rect x="567.5" y="117.5" width="6" height="6"/><rect x="567.5" y="109.5" width="6" height="6"/><rect x="568.5" y="101.5" width="6" height="6"/><rect x="569.5" y="94.5" width="6" height="6"/><rect x="569.5" y="88.5" width="6" height="6"/><rect x="570.5" y="82.5" width="6" height="6"/><rect x="570.5" y="76.5" width="6" height="6"/><rect x="571.5" y="71.5" width="6" height="6"/><rect x="571.5" y="67.5" width="6" height="6"/><rect x="572.5" y="63.5" width="6" height="6"/><rect x="573.5" y="60.5" width="6" height="6"/><rect x="573.5" y="58.5" width="6" height="6"/><rect x="574.5" y="57.5" width="6" height="6"/><rect x="574.5" y="56.5" width="6" height="6"/><rect x="575.5" y="57.5" width="6" height="6"/><rect x="575.5" y="58.5" width="6" height="6"/><rect x="576.5" y="60.5" width="6" height="6"/><rect x="577.5" y="62.5" width="6" height="6"/><rect x="577.5" y="66.5" width="6" height="6"/><rect x="578.5" y="70.5" width="6" height="6"/><rect x="578.5" y="75.5" width="6" height="6"/><rect x="579.5" y="81.5" width="6" height="6"/><rect x="579.5" y="87.5" width="6" height="6"/><rect x="580.5" y="94.5" width="6" height="6"/><rect x="580.5" y="101.5" width="6" height="6"/><rect x="581.5" y="109.5" width="6" height="6"/><rect x="582.5" y="117.5" width="6" height="6"/><rect x="582.5" y="126.5" width="6" height="6"/><rect x="583.5" y="134.5" width="6" height="6"/><rect x="583.5" y="143.5" width="6" height="6"/><rect x="584.5" y="152.5" width="6" height="6"/><rect x="584.5" y="161.5" width="6" height="6"/><rect x="585.5" y="170.5" width="6" height="6"/><rect x="586.5" y="178.5" width="6" height="6"/><rect x="586.5" y="187.5" width="6" height="6"/><rect x="587.5" y="195.5" width="6" height="6"/><rect x="587.5" y="202.5" width="6" height="6"/><rect x="588.5" y="209.5" width="6" height="6"/><rect x="588.5" y="216.5" width="6" height="6"/><rect x="589.5" y="221.5" width="6" height="6"/><rect x="590.5" y="227.5" width="6" height="6"/><rect x="590.5" y="231.5" width="6" height="6"/><rect x="591.5" y="235.5" width="6" height="6"/><rect x="591.5" y="238.5" width="6" height="6"/><rect x="592.5" y="240.5" width="6" height="6"/><rect x="592.5" y="241.5" width="6" height="6"/><rect x="593.5" y="241.5" width="6" height="6"/><rect x="593.5" y="241.5" width="6" height="6"/><rect x="594.5" y="240.5" width="6" height="6"/><rect x="595.5" y="238.5" width="6" height="6"/><rect x="595.5" y="236.5" width="6" height="6"/><rect x="596.5" y="232.5" width="6" height="6"/><rect x="596.5" y="229.5" width="6" height="6"/><rect x="597.5" y="224.5" width="6" height="6"/><rect x="597.5" y="219.5" width="6" height="6"/><rect x="598.5" y="213.5" width="6" height="6"/><rect x="599.5" y="207.5" width="6" height="6"/><rect x="599.5" y="201.5" width="6" height="6"/><rect x="600.5" y="194.5" width="6" height="6"/><rect x="600.5" y="186.5" width="6" height="6"/><rect x="601.5" y="179.5" width="6" height="6"/><rect x="601.5" y="171.5" width="6" height="6"/><rect x="602.5" y="163.5" width="6" height="6"/><rect x="603.5" y="155.5" width="6" height="6"/><rect x="603.5" y="146.5" width="6" height="6"/><rect x="604.5" y="138.5" width="6" height="6"/><rect x="604.5" y="130.5" width="6" height="6"/><rect x="605.5" y="122.5" width="6" height="6"/><rect x="605.5" y="114.5" width="6" height="6"/><rect x="606.5" y="107.5" width="6" height="6"/><rect x="607.5" y="100.5" width="6" height="6"/><rect x="607.5" y="93.5" width="6" height="6"/><rect x="608.5" y="87.5" width="6" height="6"/><rect x="608.5" y="81.5" width="6" height="6"/><rect x="609.5" y="76.5" width="6" height="6"/><rect x="609.5" y="71.5" width="6" height="6"/><rect x="610.5" y="67.5" width="6" height="6"/><rect x="611.5" y="63.5" width="6" height="6"/><rect x="611.5" y="60.5" width="6" height="6"/><rect x="612.5" y="58.5" width="6" height="6"/><rect x="612.5" y="57.5" width="6" height="6"/><rect x="613.5" y="56.5" width="6" height="6"/><rect x="613.5" y="57.5" width="6" height="6"/><rect x="614.5" y="57.5" width="6" height="6"/><rect x="615.5" y="59.5" width="6" height="6"/><rect x="615.5" y="61.5" width="6" height="6"/><rect x="616.5" y="64.5" width="6" height="6"/><rect x="616.5" y="68.5" width="6" height="6"/><rect x="617.5" y="73.5" width="6" height="6"/><rect x="617.5" y="78.5" width="6" height="6"/><rect x="618.5" y="83.5" width="6" height="6"/><rect x="619.5" y="89.5" width="6" height="6"/><rect x="619.5" y="96.5" width="6" height="6"/><rect x="620.5" y="103.5" width="6" height="6"/><rect x="620.5" y="111.5" width="6" height="6"/><rect x="621.5" y="118.5" width="6" height="6"/><rect x="621.5" y="127.5" width="6" height="6"/><rect x="622.5" y="135.5" width="6" height="6"/><rect x="622.5" y="143.5" width="6" height="6"/><rect x="623.5" y="151.5" width="6" height="6"/><rect x="624.5" y="160.5" width="6" height="6"/><rect x="624.5" y="168.5" width="6" height="6"/><rect x="625.5" y="176.5" width="6" height="6"/><rect x="625.5" y="184.5" width="6" height="6"/><rect x="626.5" y="192.5" width="6" height="6"/><rect x="627.5" y="199.5" width="6" height="6"/><rect x="627.5" y="206.5" width="6" height="6"/><rect x="628.5" y="212.5" width="6" height="6"/><rect x="628.5" y="218.5" width="6" height="6"/><rect x="629.5" y="223.5" width="6" height="6"/><rect x="629.5" y="228.5" width="6" height="6"/><rect x="630.5" y="232.5" width="6" height="6"/><rect x="631.5" y="235.5" width="6" height="6"/><rect x="631.5" y="238.5" width="6" height="6"/><rect x="632.5" y="240.5" width="6" height="6"/><rect x="632.5" y="241.5" width="6" height="6"/><rect x="633.5" y="241.5" width="6" height="6"/><rect x="633.5" y="241.5" width="6" height="6"/><rect x="634.5" y="240.5" width="6" height="6"/><rect x="635.5" y="238.5" width="6" height="6"/><rect x="635.5" y="236.5" width="6" height="6"/><rect x="636.5" y="232.5" width="6" height="6"/><rect x="636.5" y="228.5" width="6" height="6"/><rect x="637.5" y="224.5" width="6" height="6"/><rect x="637.5" y="219.5" width="6" height="6"/><rect x="638.5" y="213.5" width="6" height="6"/><rect x="639.5" y="207.5" width="6" height="6"/><rect x="639.5" y="200.5" width="6" height="6"/><rect x="640.5" y="193.5" width="6" height="6"/><rect x="640.5" y="186.5" width="6" height="6"/><rect x="641.5" y="178.5" width="6" height="6"/><rect x="641.5" y="170.5" width="6" height="6"/><rect x="642.5" y="162.5" width="6" height="6"/><rect x="643.5" y="153.5" width="6" height="6"/><rect x="643.5" y="145.5" width="6" height="6"/><rect x="644.5" y="137.5" width="6" height="6"/><rect x="644.5" y="129.5" width="6" height="6"/><rect x="645.5" y="121.5" width="6" height="6"/><rect x="645.5" y="113.5" width="6" height="6"/><rect x="646.5" y="105.5" width="6" height="6"/><rect x="647.5" y="98.5" width="6" height="6"/><rect x="647.5" y="91.5" width="6" height="6"/><rect x="648.5" y="85.5" width="6" height="6"/><rect x="648.5" y="79.5" width="6" height="6"/><rect x="649.5" y="74.5" width="6" height="6"/><rect x="649.5" y="70.5" width="6" height="6"/><rect x="650.5" y="66.5" width="6" height="6"/><rect x="651.5" y="62.5" width="6" height="6"/><rect x="651.5" y="60.5" width="6" height="6"/><rect x="652.5" y="58.5" width="6" height="6"/><rect x="652.5" y="57.5" width="6" height="6"/><rect x="653.5" y="56.5" width="6" height="6"/><rect x="653.5" y="57.5" width="6" height="6"/><rect x="654.5" y="58.5" width="6" height="6"/><rect x="655.5" y="60.5" width="6" height="6"/><rect x="655.5" y="62.5" width="6" height="6"/><rect x="656.5" y="66.5" width="6" height="6"/><rect x="656.5" y="70.5" width="6" height="6"/><rect x="657.5" y="74.5" width="6" height="6"/><rect x="658.5" y="80.5" width="6" height="6"/><rect x="658.5" y="85.5" width="6" height="6"/><rect x="659.5" y="92.5" width="6" height="6"/><rect x="659.5" y="99.5" width="6" height="6"/><rect x="660.5" y="106.5" width="6" height="6"/><rect x="660.5" y="114.5" width="6" height="6"/><rect x="661.5" y="121.5" width="6" height="6"/><rect x="662.5" y="130.5" width="6" height="6"/><rect x="662.5" y="138.5" width="6" height="6"/><rect x="663.5" y="146.5" width="6" height="6"/><rect x="663.5" y="155.5" width="6" height="6"/><rect x="664.5" y="163.5" width="6" height="6"/><rect x="664.5" y="171.5" width="6" height="6"/><rect x="665.5" y="179.5" width="6" height="6"/><rect x="666.5" y="187.5" width="6" height="6"/><rect x="666.5" y="194.5" width="6" height="6"/><rect x="667.5" y="202.5" width="6" height="6"/><rect x="667.5" y="208.5" width="6" height="6"/><rect x="668.5" y="214.5" width="6" height="6"/><rect x="668.5" y="220.5" width="6" height="6"/><rect x="669.5" y="225.5" width="6" height="6"/><rect x="670.5" y="230.5" width="6" height="6"/><rect x="670.5" y="233.5" width="6" height="6"/><rect x="671.5" y="237.5" width="6" height="6"/><rect x="671.5" y="239.5" width="6" height="6"/><rect x="672.5" y="240.5" width="6" height="6"/><rect x="673.5" y="241.5" width="6" height="6"/><rect x="673.5" y="241.5" width="6" height="6"/><rect x="674.5" y="241.5" width="6" height="6"/><rect x="674.5" y="240.5" width="6" height="6"/><rect x="675.5" y="238.5" width="6" height="6"/><rect x="675.5" y="235.5" width="6" height="6"/><rect x="676.5" y="232.5" width="6" height="6"/><rect x="677.5" y="228.5" width="6" height="6"/><rect x="677.5" y="224.5" width="6" height="6"/><rect x="678.5" y="219.5" width="6" height="6"/><rect x="678.5" y="213.5" width="6" height="6"/><rect x="679.5" y="207.5" width="6" height="6"/><rect x="679.5" y="201.5" width="6" height="6"/><rect x="680.5" y="194.5" width="6" height="6"/><rect x="681.5" y="187.5" width="6" height="6"/><rect x="681.5" y="180.5" width="6" height="6"/><rect x="682.5" y="172.5" width="6" height="6"/><rect x="682.5" y="165.5" width="6" height="6"/><rect x="683.5" y="157.5" width="6" height="6"/><rect x="684.5" y="149.5" width="6" height="6"/><rect x="684.5" y="141.5" width="6" height="6"/><rect x="685.5" y="133.5" width="6" height="6"/><rect x="685.5" y="125.5" width="6" height="6"/><rect x="686.5" y="118.5" width="6" height="6"/><rect x="686.5" y="110.5" width="6" height="6"/><rect x="687.5" y="103.5" width="6" height="6"/><rect x="688.5" y="97.5" width="6" height="6"/><rect x="688.5" y="90.5" width="6" height="6"/><rect x="689.5" y="84.5" width="6" height="6"/><rect x="689.5" y="79.5" width="6" height="6"/><rect x="690.5" y="74.5" width="6" height="6"/><rect x="691.5" y="70.5" width="6" height="6"/><rect x="691.5" y="66.5" width="6" height="6"/><rect x="692.5" y="63.5" width="6" height="6"/><rect x="692.5" y="60.5" width="6" height="6"/><rect x="693.5" y="58.5" width="6" height="6"/><rect x="693.5" y="57.5" width="6" height="6"/><rect x="694.5" y="56.5" width="6" height="6"/><rect x="695.5" y="57.5" width="6" height="6"/><rect x="695.5" y="58.5" width="6" height="6"/><rect x="696.5" y="59.5" width="6" height="6"/><rect x="696.5" y="62.5" width="6" height="6"/><rect x="697.5" y="65.5" width="6" height="6"/><rect x="698.5" y="68.5" width="6" height="6"/><rect x="698.5" y="73.5" width="6" height="6"/><rect x="699.5" y="78.5" width="6" height="6"/><rect x="699.5" y="84.5" width="6" height="6"/><rect x="700.5" y="90.5" width="6" height="6"/><rect x="700.5" y="97.5" width="6" height="6"/><rect x="701.5" y="104.5" width="6" height="6"/><rect x="702.5" y="111.5" width="6" height="6"/><rect x="702.5" y="119.5" width="6" height="6"/><rect x="703.5" y="127.5" width="6" height="6"/><rect x="703.5" y="135.5" width="6" height="6"/><rect x="704.5" y="144.5" width="6" height="6"/><rect x="705.5" y="152.5" width="6" height="6"/><rect x="705.5" y="161.5" width="6" height="6"/><rect x="706.5" y="169.5" width="6" height="6"/><rect x="706.5" y="177.5" width="6" height="6"/><rect x="707.5" y="185.5" width="6" height="6"/><rect x="707.5" y="192.5" width="6" height="6"/><rect x="708.5" y="200.5" width="6" height="6"/><rect x="709.5" y="207.5" width="6" height="6"/><rect x="709.5" y="213.5" width="6" height="6"/><rect x="710.5" y="219.5" width="6" height="6"/><rect x="710.5" y="224.5" width="6" height="6"/><rect x="711.5" y="229.5" width="6" height="6"/><rect x="712.5" y="233.5" width="6" height="6"/><rect x="712.5" y="236.5" width="6" height="6"/><rect x="713.5" y="238.5" width="6" height="6"/><rect x="713.5" y="240.5" width="6" height="6"/><rect x="714.5" y="241.5" width="6" height="6"/><rect x="714.5" y="241.5" width="6" height="6"/><rect x="715.5" y="241.5" width="6" height="6"/><rect x="716.5" y="240.5" width="6" height="6"/><rect x="716.5" y="238.5" width="6" height="6"/><rect x="717.5" y="236.5" width="6" height="6"/><rect x="717.5" y="233.5" width="6" height="6"/><rect x="718.5" y="230.5" width="6" height="6"/><rect x="719.5" y="226.5" width="6" height="6"/><rect x="719.5" y="221.5" width="6" height="6"/><rect x="720.5" y="216.5" width="6" height="6"/><rect x="720.5" y="210.5" width="6" height="6"/><rect x="721.5" y="204.5" width="6" height="6"/><rect x="722.5" y="198.5" width="6" height="6"/><rect x="722.5" y="191.5" width="6" height="6"/><rect x="723.5" y="184.5" width="6" height="6"/><rect x="723.5" y="177.5" width="6" height="6"/><rect x="724.5" y="169.5" width="6" height="6"/><rect x="724.5" y="162.5" width="6" height="6"/><rect x="725.5" y="154.5" width="6" height="6"/><rect x="726.5" y="146.5" width="6" height="6"/><rect x="726.5" y="138.5" width="6" height="6"/><rect x="727.5" y="131.5" width="6" height="6"/><rect x="727.5" y="123.5" width="6" height="6"/><rect x="728.5" y="116.5" width="6" height="6"/><rect x="729.5" y="109.5" width="6" height="6"/><rect x="729.5" y="102.5" width="6" height="6"/><rect x="730.5" y="95.5" width="6" height="6"/><rect x="730.5" y="89.5" width="6" height="6"/><rect x="731.5" y="84.5" width="6" height="6"/><rect x="731.5" y="78.5" width="6" height="6"/><rect x="732.5" y="73.5" width="6" height="6"/><rect x="733.5" y="69.5" width="6" height="6"/><rect x="733.5" y="66.5" width="6" height="6"/><rect x="734.5" y="63.5" width="6" height="6"/><rect x="734.5" y="60.5" width="6" height="6"/><rect x="735.5" y="58.5" width="6" height="6"/><rect x="736.5" y="57.5" width="6" height="6"/><rect x="736.5" y="56.5" width="6" height="6"/><rect x="737.5" y="57.5" width="6" height="6"/><rect x="737.5" y="57.5" width="6" height="6"/><rect x="738.5" y="59.5" width="6" height="6"/><rect x="739.5" y="61.5" width="6" height="6"/><rect x="739.5" y="63.5" width="6" height="6"/><rect x="740.5" y="66.5" width="6" height="6"/><rect x="740.5" y="70.5" width="6" height="6"/><rect x="741.5" y="74.5" width="6" height="6"/><rect x="742.5" y="79.5" width="6" height="6"/><rect x="742.5" y="84.5" width="6" height="6"/><rect x="743.5" y="89.5" width="6" height="6"/><rect x="743.5" y="96.5" width="6" height="6"/><rect x="744.5" y="102.5" width="6" height="6"/><rect x="744.5" y="109.5" width="6" height="6"/><rect x="745.5" y="116.5" width="6" height="6"/><rect x="746.5" y="123.5" width="6" height="6"/><rect x="746.5" y="130.5" width="6" height="6"/><rect x="747.5" y="138.5" width="6" height="6"/><rect x="747.5" y="145.5" width="6" height="6"/><rect x="748.5" y="153.5" width="6" height="6"/><rect x="749.5" y="160.5" width="6" height="6"/><rect x="749.5" y="168.5" width="6" height="6"/><rect x="750.5" y="175.5" width="6" height="6"/><rect x="750.5" y="182.5" width="6" height="6"/><rect x="751.5" y="189.5" width="6" height="6"/><rect x="752.5" y="196.5" width="6" height="6"/><rect x="752.5" y="202.5" width="6" height="6"/><rect x="753.5" y="208.5" width="6" height="6"/><rect x="753.5" y="214.5" width="6" height="6"/><rect x="754.5" y="219.5" width="6" height="6"/><rect x="754.5" y="224.5" width="6" height="6"/><rect x="755.5" y="228.5" width="6" height="6"/><rect x="756.5" y="232.5" width="6" height="6"/><rect x="756.5" y="235.5" width="6" height="6"/><rect x="757.5" y="237.5" width="6" height="6"/><rect x="757.5" y="239.5" width="6" height="6"/><rect x="758.5" y="241.5" width="6" height="6"/><rect x="759.5" y="241.5" width="6" height="6"/><rect x="759.5" y="241.5" width="6" height="6"/><rect x="760.5" y="241.5" width="6" height="6"/><rect x="760.5" y="240.5" width="6" height="6"/><rect x="761.5" y="238.5" width="6" height="6"/><rect x="762.5" y="236.5" width="6" height="6"/><rect x="762.5" y="233.5" width="6" height="6"/><rect x="763.5" y="229.5" width="6" height="6"/><rect x="763.5" y="225.5" width="6" height="6"/><rect x="764.5" y="221.5" width="6" height="6"/><rect x="765.5" y="216.5" width="6" height="6"/><rect x="765.5" y="210.5" width="6" height="6"/><rect x="766.5" y="204.5" width="6" height="6"/><rect x="766.5" y="198.5" width="6" height="6"/><rect x="767.5" y="191.5" width="6" height="6"/><rect x="768.5" y="184.5" width="6" height="6"/><rect x="768.5" y="177.5" width="6" height="6"/><rect x="769.5" y="170.5" width="6" height="6"/><rect x="769.5" y="163.5" width="6" height="6"/><rect x="770.5" y="155.5" width="6" height="6"/><rect x="771.5" y="148.5" width="6" height="6"/><rect x="771.5" y="140.5" width="6" height="6"/><rect x="772.5" y="132.5" width="6" height="6"/><rect x="772.5" y="125.5" width="6" height="6"/><rect x="773.5" y="118.5" width="6" height="6"/><rect x="773.5" y="111.5" width="6" height="6"/><rect x="774.5" y="104.5" width="6" height="6"/><rect x="775.5" y="98.5" width="6" height="6"/><rect x="775.5" y="91.5" width="6" height="6"/><rect x="776.5" y="86.5" width="6" height="6"/><rect x="776.5" y="80.5" width="6" height="6"/><rect x="777.5" y="75.5" width="6" height="6"/><rect x="778.5" y="71.5" width="6" height="6"/><rect x="778.5" y="67.5" width="6" height="6"/><rect x="779.5" y="64.5" width="6" height="6"/><rect x="779.5" y="61.5" width="6" height="6"/><rect x="780.5" y="59.5" width="6" height="6"/><rect x="781.5" y="58.5" width="6" height="6"/><rect x="781.5" y="57.5" width="6" height="6"/><rect x="782.5" y="56.5" width="6" height="6"/><rect x="782.5" y="57.5" width="6" height="6"/><rect x="783.5" y="58.5" width="6" height="6"/><rect x="784.5" y="60.5" width="6" height="6"/><rect x="784.5" y="62.5" width="6" height="6"/><rect x="785.5" y="65.5" width="6" height="6"/><rect x="785.5" y="69.5" width="6" height="6"/><rect x="786.5" y="73.5" width="6" height="6"/><rect x="787.5" y="78.5" width="6" height="6"/><rect x="787.5" y="83.5" width="6" height="6"/><rect x="788.5" y="89.5" width="6" height="6"/><rect x="788.5" y="95.5" width="6" height="6"/><rect x="789.5" y="102.5" width="6" height="6"/><rect x="790.5" y="109.5" width="6" height="6"/><rect x="790.5" y="116.5" width="6" height="6"/><rect x="791.5" y="124.5" width="6" height="6"/><rect x="791.5" y="131.5" width="6" height="6"/><rect x="792.5" y="139.5" width="6" height="6"/><rect x="793.5" y="147.5" width="6" height="6"/><rect x="793.5" y="155.5" width="6" height="6"/><rect x="794.5" y="163.5" width="6" height="6"/><rect x="794.5" y="171.5" width="6" height="6"/><rect x="795.5" y="179.5" width="6" height="6"/><rect x="796.5" y="186.5" width="6" height="6"/><rect x="796.5" y="193.5" width="6" height="6"/><rect x="797.5" y="200.5" width="6" height="6"/><rect x="797.5" y="206.5" width="6" height="6"/><rect x="798.5" y="212.5" width="6" height="6"/><rect x="799.5" y="218.5" width="6" height="6"/><rect x="799.5" y="223.5" width="6" height="6"/><rect x="800.5" y="228.5" width="6" height="6"/><rect x="800.5" y="231.5" width="6" height="6"/><rect x="801.5" y="235.5" width="6" height="6"/><rect x="802.5" y="237.5" width="6" height="6"/><rect x="802.5" y="239.5" width="6" height="6"/><rect x="803.5" y="241.5" width="6" height="6"/><rect x="803.5" y="241.5" width="6" height="6"/><rect x="804.5" y="241.5" width="6" height="6"/><rect x="805.5" y="241.5" width="6" height="6"/><rect x="805.5" y="240.5" width="6" height="6"/><rect x="806.5" y="238.5" width="6" height="6"/><rect x="806.5" y="235.5" width="6" height="6"/><rect x="807.5" y="232.5" width="6" height="6"/><rect x="808.5" y="229.5" width="6" height="6"/><rect x="808.5" y="225.5" width="6" height="6"/><rect x="809.5" y="221.5" width="6" height="6"/><rect x="809.5" y="216.5" width="6" height="6"/><rect x="810.5" y="210.5" width="6" height="6"/><rect x="811.5" y="204.5" width="6" height="6"/><rect x="811.5" y="198.5" width="6" height="6"/><rect x="812.5" y="192.5" width="6" height="6"/><rect x="812.5" y="185.5" width="6" height="6"/><rect x="813.5" y="178.5" width="6" height="6"/><rect x="814.5" y="171.5" width="6" height="6"/><rect x="814.5" y="164.5" width="6" height="6"/><rect x="815.5" y="156.5" width="6" height="6"/><rect x="815.5" y="149.5" width="6" height="6"/><rect x="816.5" y="142.5" width="6" height="6"/><rect x="817.5" y="134.5" width="6" height="6"/><rect x="817.5" y="127.5" width="6" height="6"/><rect x="818.5" y="120.5" width="6" height="6"/><rect x="818.5" y="113.5" width="6" height="6"/><rect x="819.5" y="106.5" width="6" height="6"/><rect x="820.5" y="100.5" width="6" height="6"/><rect x="820.5" y="93.5" width="6" height="6"/><rect x="821.5" y="88.5" width="6" height="6"/><rect x="821.5" y="82.5" width="6" height="6"/><rect x="822.5" y="77.5" width="6" height="6"/><rect x="823.5" y="73.5" width="6" height="6"/><rect x="823.5" y="69.5" width="6" height="6"/><rect x="824.5" y="65.5" width="6" height="6"/><rect x="824.5" y="62.5" width="6" height="6"/><rect x="825.5" y="60.5" width="6" height="6"/><rect x="826.5" y="58.5" width="6" height="6"/><rect x="826.5" y="57.5" width="6" height="6"/><rect x="827.5" y="56.5" width="6" height="6"/><rect x="827.5" y="56.5" width="6" height="6"/><rect x="828.5" y="57.5" width="6" height="6"/><rect x="829.5" y="58.5" width="6" height="6"/><rect x="829.5" y="60.5" width="6" height="6"/><rect x="830.5" y="62.5" width="6" height="6"/><rect x="830.5" y="65.5" width="6" height="6"/><rect x="831.5" y="69.5" width="6" height="6"/><rect x="832.5" y="73.5" width="6" height="6"/><rect x="832.5" y="77.5" width="6" height="6"/><rect x="833.5" y="82.5" width="6" height="6"/><rect x="833.5" y="87.5" width="6" height="6"/><rect x="834.5" y="93.5" width="6" height="6"/><rect x="835.5" y="99.5" width="6" height="6"/><rect x="835.5" y="106.5" width="6" height="6"/><rect x="836.5" y="112.5" width="6" height="6"/><rect x="836.5" y="119.5" width="6" height="6"/><rect x="837.5" y="126.5" width="6" height="6"/><rect x="838.5" y="134.5" width="6" height="6"/><rect x="838.5" y="141.5" width="6" height="6"/><rect x="839.5" y="149.5" width="6" height="6"/><rect x="839.5" y="156.5" width="6" height="6"/><rect x="840.5" y="163.5" width="6" height="6"/><rect x="841.5" y="171.5" width="6" height="6"/><rect x="841.5" y="178.5" width="6" height="6"/><rect x="842.5" y="185.5" width="6" height="6"/><rect x="842.5" y="192.5" width="6" height="6"/><rect x="843.5" y="198.5" width="6" height="6"/><rect x="844.5" y="204.5" width="6" height="6"/><rect x="844.5" y="210.5" width="6" height="6"/><rect x="845.5" y="215.5" width="6" height="6"/><rect x="846.5" y="220.5" width="6" height="6"/><rect x="846.5" y="225.5" width="6" height="6"/><rect x="847.5" y="229.5" width="6" height="6"/><rect x="847.5" y="232.5" width="6" height="6"/><rect x="848.5" y="235.5" width="6" height="6"/><rect x="849.5" y="238.5" width="6" height="6"/><rect x="849.5" y="240.5" width="6" height="6"/><rect x="850.5" y="241.5" width="6" height="6"/><rect x="850.5" y="241.5" width="6" height="6"/><rect x="851.5" y="241.5" width="6" height="6"/><rect x="852.5" y="241.5" width="6" height="6"/><rect x="852.5" y="240.5" width="6" height="6"/><rect x="853.5" y="238.5" width="6" height="6"/><rect x="853.5" y="236.5" width="6" height="6"/><rect x="854.5" y="233.5" width="6" height="6"/><rect x="855.5" y="230.5" width="6" height="6"/><rect x="855.5" y="227.5" width="6" height="6"/><rect x="856.5" y="223.5" width="6" height="6"/><rect x="856.5" y="218.5" width="6" height="6"/><rect x="857.5" y="213.5" width="6" height="6"/><rect x="858.5" y="208.5" width="6" height="6"/><rect x="858.5" y="202.5" width="6" height="6"/><rect x="859.5" y="196.5" width="6" height="6"/><rect x="859.5" y="190.5" width="6" height="6"/><rect x="860.5" y="184.5" width="6" height="6"/><rect x="861.5" y="177.5" width="6" height="6"/><rect x="861.5" y="170.5" width="6" height="6"/><rect x="862.5" y="163.5" width="6" height="6"/><rect x="863.5" y="156.5" width="6" height="6"/><rect x="863.5" y="149.5" width="6" height="6"/><rect x="864.5" y="142.5" width="6" height="6"/><rect x="864.5" y="135.5" width="6" height="6"/><rect x="865.5" y="128.5" width="6" height="6"/><rect x="866.5" y="121.5" width="6" height="6"/><rect x="866.5" y="114.5" width="6" height="6"/><rect x="867.5" y="108.5" width="6" height="6"/><rect x="867.5" y="102.5" width="6" height="6"/><rect x="868.5" y="96.5" width="6" height="6"/><rect x="869.5" y="90.5" width="6" height="6"/><rect x="869.5" y="85.5" width="6" height="6"/><rect x="870.5" y="80.5" width="6" height="6"/><rect x="870.5" y="75.5" width="6" height="6"/><rect x="871.5" y="71.5" width="6" height="6"/><rect x="872.5" y="68.5" width="6" height="6"/><rect x="872.5" y="64.5" width="6" height="6"/><rect x="873.5" y="62.5" width="6" height="6"/><rect x="874.5" y="60.5" width="6" height="6"/><rect x="874.5" y="58.5" width="6" height="6"/><rect x="875.5" y="57.5" width="6" height="6"/><rect x="875.5" y="56.5" width="6" height="6"/><rect x="876.5" y="57.5" width="6" height="6"/><rect x="877.5" y="57.5" width="6" height="6"/><rect x="877.5" y="59.5" width="6" height="6"/><rect x="878.5" y="61.5" width="6" height="6"/><rect x="878.5" y="64.5" width="6" height="6"/><rect x="879.5" y="67.5" width="6" height="6"/><rect x="880.5" y="71.5" width="6" height="6"/><rect x="880.5" y="75.5" width="6" height="6"/><rect x="881.5" y="81.5" width="6" height="6"/><rect x="881.5" y="86.5" width="6" height="6"/><rect x="882.5" y="92.5" width="6" height="6"/><rect x="883.5" y="99.5" width="6" height="6"/><rect x="883.5" y="106.5" width="6" height="6"/><rect x="884.5" y="113.5" width="6" height="6"/><rect x="885.5" y="121.5" width="6" height="6"/><rect x="885.5" y="128.5" width="6" height="6"/><rect x="886.5" y="136.5" width="6" height="6"/><rect x="886.5" y="144.5" width="6" height="6"/><rect x="887.5" y="152.5" width="6" height="6"/><rect x="888.5" y="160.5" width="6" height="6"/><rect x="888.5" y="168.5" width="6" height="6"/><rect x="889.5" y="176.5" width="6" height="6"/><rect x="889.5" y="183.5" width="6" height="6"/><rect x="890.5" y="191.5" width="6" height="6"/><rect x="891.5" y="198.5" width="6" height="6"/><rect x="891.5" y="204.5" width="6" height="6"/><rect x="892.5" y="211.5" width="6" height="6"/><rect x="892.5" y="216.5" width="6" height="6"/><rect x="893.5" y="222.5" width="6" height="6"/><rect x="894.5" y="226.5" width="6" height="6"/><rect x="894.5" y="230.5" width="6" height="6"/><rect x="895.5" y="234.5" width="6" height="6"/><rect x="896.5" y="237.5" width="6" height="6"/><rect x="896.5" y="239.5" width="6" height="6"/><rect x="897.5" y="241.5" width="6" height="6"/><rect x="897.5" y="241.5" width="6" height="6"/><rect x="898.5" y="241.5" width="6" height="6"/><rect x="899.5" y="241.5" width="6" height="6"/><rect x="899.5" y="240.5" width="6" height="6"/><rect x="900.5" y="239.5" width="6" height="6"/><rect x="900.5" y="238.5" width="6" height="6"/><rect x="901.5" y="235.5" width="6" height="6"/><rect x="902.5" y="233.5" width="6" height="6"/><rect x="902.5" y="230.5" width="6" height="6"/><rect x="903.5" y="227.5" width="6" height="6"/><rect x="904.5" y="223.5" width="6" height="6"/><rect x="904.5" y="220.5" width="6" height="6"/><rect x="905.5" y="215.5" width="6" height="6"/><rect x="905.5" y="211.5" width="6" height="6"/><rect x="906.5" y="206.5" width="6" height="6"/><rect x="907.5" y="201.5" width="6" height="6"/><rect x="907.5" y="195.5" width="6" height="6"/><rect x="908.5" y="190.5" width="6" height="6"/><rect x="908.5" y="184.5" width="6" height="6"/><rect x="909.5" y="178.5" width="6" height="6"/><rect x="910.5" y="172.5" width="6" height="6"/><rect x="910.5" y="166.5" width="6" height="6"/><rect x="911.5" y="160.5" width="6" height="6"/><rect x="912.5" y="153.5" width="6" height="6"/><rect x="912.5" y="147.5" width="6" height="6"/><rect x="913.5" y="141.5" width="6" height="6"/><rect x="913.5" y="134.5" width="6" height="6"/><rect x="914.5" y="128.5" width="6" height="6"/><rect x="915.5" y="122.5" width="6" height="6"/><rect x="915.5" y="116.5" width="6" height="6"/><rect x="916.5" y="110.5" width="6" height="6"/><rect x="916.5" y="105.5" width="6" height="6"/><rect x="917.5" y="99.5" width="6" height="6"/><rect x="918.5" y="94.5" width="6" height="6"/><rect x="918.5" y="89.5" width="6" height="6"/><rect x="919.5" y="84.5" width="6" height="6"/><rect x="920.5" y="80.5" width="6" height="6"/><rect x="920.5" y="76.5" width="6" height="6"/><rect x="921.5" y="72.5" width="6" height="6"/><rect x="921.5" y="69.5" width="6" height="6"/><rect x="922.5" y="66.5" width="6" height="6"/><rect x="923.5" y="63.5" width="6" height="6"/><rect x="923.5" y="61.5" width="6" height="6"/><rect x="924.5" y="59.5" width="6" height="6"/><rect x="924.5" y="58.5" width="6" height="6"/><rect x="925.5" y="57.5" width="6" height="6"/><rect x="926.5" y="56.5" width="6" height="6"/><rect x="926.5" y="56.5" width="6" height="6"/><rect x="927.5" y="57.5" width="6" height="6"/><rect x="928.5" y="58.5" width="6" height="6"/><rect x="928.5" y="59.5" width="6" height="6"/><rect x="929.5" y="61.5" width="6" height="6"/><rect x="929.5" y="63.5" width="6" height="6"/><rect x="930.5" y="65.5" width="6" height="6"/><rect x="931.5" y="68.5" width="6" height="6"/><rect x="931.5" y="71.5" width="6" height="6"/><rect x="932.5" y="75.5" width="6" height="6"/><rect x="933.5" y="79.5" width="6" height="6"/><rect x="933.5" y="83.5" width="6" height="6"/><rect x="934.5" y="88.5" width="6" height="6"/><rect x="934.5" y="93.5" width="6" height="6"/><rect x="935.5" y="95.5" width="6" height="6"/><rect x="935.5" y="101.5" width="6" height="6"/></g>
<path d="M334.2 76 L334.8 120 L335 209" stroke="#000" stroke-width="3.4" fill="none"/>
<g fill="#fff" stroke="#000" stroke-width="1"><rect x="331.5" y="207.5" width="6" height="6"/><rect x="331.5" y="120.5" width="6" height="6"/><rect x="331.5" y="162.5" width="6" height="6"/></g>
<g clip-path="url(#cb)">
<polyline points="169.70,329.89 182.70,335.40 195.10,340.91 209.20,346.43 222.60,351.94 236.00,357.45 250.30,362.96 264.80,368.48 278.40,373.99 293.30,379.50 308.10,385.01 323.80,390.52 338.30,396.04 353.60,401.55 370.00,407.06 385.90,412.57 401.60,418.09 418.10,423.60 434.60,429.11 451.60,434.62 467.70,440.14 486.10,445.65 504.30,451.16 521.40,456.68 540.00,462.19 558.60,467.70 577.90,473.21 596.40,478.73 616.50,484.24 636.30,489.75 656.40,495.26 676.40,500.77 697.70,506.29 717.90,511.80 739.90,517.31 762.50,522.83 785.30,528.34 807.10,533.85 830.60,539.36 854.20,544.88 879.10,550.39 901.30,555.90 929.60,561.41" fill="none" stroke="#0000ff" stroke-width="2.6"/>
</g>
<path d="M169.70 321.69 L177.00 333.89 L162.40 333.89 Z" fill="#fff" stroke="#0000ff" stroke-width="2.2"/>
<path d="M182.70 327.20 L190.00 339.40 L175.40 339.40 Z" fill="#fff" stroke="#0000ff" stroke-width="2.2"/>
<path d="M195.10 332.71 L202.40 344.91 L187.80 344.91 Z" fill="#fff" stroke="#0000ff" stroke-width="2.2"/>
<path d="M209.20 338.23 L216.50 350.43 L201.90 350.43 Z" fill="#fff" stroke="#0000ff" stroke-width="2.2"/>
<path d="M222.60 343.74 L229.90 355.94 L215.30 355.94 Z" fill="#fff" stroke="#0000ff" stroke-width="2.2"/>
<path d="M236.00 349.25 L243.30 361.45 L228.70 361.45 Z" fill="#fff" stroke="#0000ff" stroke-width="2.2"/>
<path d="M250.30 354.76 L257.60 366.96 L243.00 366.96 Z" fill="#fff" stroke="#0000ff" stroke-width="2.2"/>
<path d="M264.80 360.28 L272.10 372.48 L257.50 372.48 Z" fill="#fff" stroke="#0000ff" stroke-width="2.2"/>
<path d="M278.40 365.79 L285.70 377.99 L271.10 377.99 Z" fill="#fff" stroke="#0000ff" stroke-width="2.2"/>
<path d="M293.30 371.30 L300.60 383.50 L286.00 383.50 Z" fill="#fff" stroke="#0000ff" stroke-width="2.2"/>
<path d="M308.10 376.81 L315.40 389.01 L300.80 389.01 Z" fill="#fff" stroke="#0000ff" stroke-width="2.2"/>
<path d="M323.80 382.32 L331.10 394.52 L316.50 394.52 Z" fill="#fff" stroke="#0000ff" stroke-width="2.2"/>
<path d="M338.30 387.84 L345.60 400.04 L331.00 400.04 Z" fill="#fff" stroke="#0000ff" stroke-width="2.2"/>
<path d="M353.60 393.35 L360.90 405.55 L346.30 405.55 Z" fill="#fff" stroke="#0000ff" stroke-width="2.2"/>
<path d="M370.00 398.86 L377.30 411.06 L362.70 411.06 Z" fill="#fff" stroke="#0000ff" stroke-width="2.2"/>
<path d="M385.90 404.38 L393.20 416.57 L378.60 416.57 Z" fill="#fff" stroke="#0000ff" stroke-width="2.2"/>
<path d="M401.60 409.89 L408.90 422.09 L394.30 422.09 Z" fill="#fff" stroke="#0000ff" stroke-width="2.2"/>
<path d="M418.10 415.40 L425.40 427.60 L410.80 427.60 Z" fill="#fff" stroke="#0000ff" stroke-width="2.2"/>
<path d="M434.60 420.91 L441.90 433.11 L427.30 433.11 Z" fill="#fff" stroke="#0000ff" stroke-width="2.2"/>
<path d="M451.60 426.43 L458.90 438.62 L444.30 438.62 Z" fill="#fff" stroke="#0000ff" stroke-width="2.2"/>
<path d="M467.70 431.94 L475.00 444.14 L460.40 444.14 Z" fill="#fff" stroke="#0000ff" stroke-width="2.2"/>
<path d="M486.10 437.45 L493.40 449.65 L478.80 449.65 Z" fill="#fff" stroke="#0000ff" stroke-width="2.2"/>
<path d="M504.30 442.96 L511.60 455.16 L497.00 455.16 Z" fill="#fff" stroke="#0000ff" stroke-width="2.2"/>
<path d="M521.40 448.48 L528.70 460.68 L514.10 460.68 Z" fill="#fff" stroke="#0000ff" stroke-width="2.2"/>
<path d="M540.00 453.99 L547.30 466.19 L532.70 466.19 Z" fill="#fff" stroke="#0000ff" stroke-width="2.2"/>
<path d="M558.60 459.50 L565.90 471.70 L551.30 471.70 Z" fill="#fff" stroke="#0000ff" stroke-width="2.2"/>
<path d="M577.90 465.01 L585.20 477.21 L570.60 477.21 Z" fill="#fff" stroke="#0000ff" stroke-width="2.2"/>
<path d="M596.40 470.53 L603.70 482.73 L589.10 482.73 Z" fill="#fff" stroke="#0000ff" stroke-width="2.2"/>
<path d="M616.50 476.04 L623.80 488.24 L609.20 488.24 Z" fill="#fff" stroke="#0000ff" stroke-width="2.2"/>
<path d="M636.30 481.55 L643.60 493.75 L629.00 493.75 Z" fill="#fff" stroke="#0000ff" stroke-width="2.2"/>
<path d="M656.40 487.06 L663.70 499.26 L649.10 499.26 Z" fill="#fff" stroke="#0000ff" stroke-width="2.2"/>
<path d="M676.40 492.57 L683.70 504.77 L669.10 504.77 Z" fill="#fff" stroke="#0000ff" stroke-width="2.2"/>
<path d="M697.70 498.09 L705.00 510.29 L690.40 510.29 Z" fill="#fff" stroke="#0000ff" stroke-width="2.2"/>
<path d="M717.90 503.60 L725.20 515.80 L710.60 515.80 Z" fill="#fff" stroke="#0000ff" stroke-width="2.2"/>
<path d="M739.90 509.11 L747.20 521.31 L732.60 521.31 Z" fill="#fff" stroke="#0000ff" stroke-width="2.2"/>
<path d="M762.50 514.62 L769.80 526.83 L755.20 526.83 Z" fill="#fff" stroke="#0000ff" stroke-width="2.2"/>
<path d="M785.30 520.14 L792.60 532.34 L778.00 532.34 Z" fill="#fff" stroke="#0000ff" stroke-width="2.2"/>
<path d="M807.10 525.65 L814.40 537.85 L799.80 537.85 Z" fill="#fff" stroke="#0000ff" stroke-width="2.2"/>
<path d="M830.60 531.16 L837.90 543.36 L823.30 543.36 Z" fill="#fff" stroke="#0000ff" stroke-width="2.2"/>
<path d="M854.20 536.67 L861.50 548.88 L846.90 548.88 Z" fill="#fff" stroke="#0000ff" stroke-width="2.2"/>
<path d="M879.10 542.19 L886.40 554.39 L871.80 554.39 Z" fill="#fff" stroke="#0000ff" stroke-width="2.2"/>
<path d="M901.30 547.70 L908.60 559.90 L894.00 559.90 Z" fill="#fff" stroke="#0000ff" stroke-width="2.2"/>
<path d="M929.60 553.21 L936.90 565.41 L922.30 565.41 Z" fill="#fff" stroke="#0000ff" stroke-width="2.2"/>
<g clip-path="url(#cc)">
<path d="M167.1 746.7 H539.8 M539.8 747.1 H939.2" stroke="#0000ff" stroke-width="5.6" fill="none"/>
<polyline points="169.70,689.30 182.70,696.50 195.10,828.30 209.20,699.50 222.60,745.00 236.00,790.20 250.30,764.20 264.80,695.60 278.40,756.30 293.30,733.20 308.10,750.70 323.80,657.50 338.30,750.70 353.60,799.20 370.00,685.70 385.90,733.70 401.60,732.90 418.10,733.20 434.60,750.10 451.60,725.30 467.70,850.90 486.10,759.10 504.30,690.50 521.40,804.30 540.00,775.50 558.60,766.20 577.90,720.50 596.40,816.20 616.50,744.50 636.30,727.50 656.40,755.70 676.40,773.20 697.70,745.00 717.90,790.80 739.90,821.50 762.50,758.50 785.30,681.00 807.10,828.30 830.60,774.30 854.20,771.80 879.10,641.90 901.30,908.00 929.60,519.00" fill="none" stroke="#0b720b" stroke-width="1.6"/>
</g>
<path d="M169.70 681.00 L177.20 693.30 L162.20 693.30 Z" fill="#fff" stroke="#057505" stroke-width="2.2"/>
<path d="M182.70 688.20 L190.20 700.50 L175.20 700.50 Z" fill="#fff" stroke="#057505" stroke-width="2.2"/>
<path d="M195.10 820.00 L202.60 832.30 L187.60 832.30 Z" fill="#fff" stroke="#057505" stroke-width="2.2"/>
<path d="M209.20 691.20 L216.70 703.50 L201.70 703.50 Z" fill="#fff" stroke="#057505" stroke-width="2.2"/>
<path d="M222.60 736.70 L230.10 749.00 L215.10 749.00 Z" fill="#fff" stroke="#057505" stroke-width="2.2"/>
<path d="M236.00 781.90 L243.50 794.20 L228.50 794.20 Z" fill="#fff" stroke="#057505" stroke-width="2.2"/>
<path d="M250.30 755.90 L257.80 768.20 L242.80 768.20 Z" fill="#fff" stroke="#057505" stroke-width="2.2"/>
<path d="M264.80 687.30 L272.30 699.60 L257.30 699.60 Z" fill="#fff" stroke="#057505" stroke-width="2.2"/>
<path d="M278.40 748.00 L285.90 760.30 L270.90 760.30 Z" fill="#fff" stroke="#057505" stroke-width="2.2"/>
<path d="M293.30 724.90 L300.80 737.20 L285.80 737.20 Z" fill="#fff" stroke="#057505" stroke-width="2.2"/>
<path d="M308.10 742.40 L315.60 754.70 L300.60 754.70 Z" fill="#fff" stroke="#057505" stroke-width="2.2"/>
<path d="M323.80 649.20 L331.30 661.50 L316.30 661.50 Z" fill="#fff" stroke="#057505" stroke-width="2.2"/>
<path d="M338.30 742.40 L345.80 754.70 L330.80 754.70 Z" fill="#fff" stroke="#057505" stroke-width="2.2"/>
<path d="M353.60 790.90 L361.10 803.20 L346.10 803.20 Z" fill="#fff" stroke="#057505" stroke-width="2.2"/>
<path d="M370.00 677.40 L377.50 689.70 L362.50 689.70 Z" fill="#fff" stroke="#057505" stroke-width="2.2"/>
<path d="M385.90 725.40 L393.40 737.70 L378.40 737.70 Z" fill="#fff" stroke="#057505" stroke-width="2.2"/>
<path d="M401.60 724.60 L409.10 736.90 L394.10 736.90 Z" fill="#fff" stroke="#057505" stroke-width="2.2"/>
<path d="M418.10 724.90 L425.60 737.20 L410.60 737.20 Z" fill="#fff" stroke="#057505" stroke-width="2.2"/>
<path d="M434.60 741.80 L442.10 754.10 L427.10 754.10 Z" fill="#fff" stroke="#057505" stroke-width="2.2"/>
<path d="M451.60 717.00 L459.10 729.30 L444.10 729.30 Z" fill="#fff" stroke="#057505" stroke-width="2.2"/>
<path d="M467.70 842.60 L475.20 854.90 L460.20 854.90 Z" fill="#fff" stroke="#057505" stroke-width="2.2"/>
<path d="M486.10 750.80 L493.60 763.10 L478.60 763.10 Z" fill="#fff" stroke="#057505" stroke-width="2.2"/>
<path d="M504.30 682.20 L511.80 694.50 L496.80 694.50 Z" fill="#fff" stroke="#057505" stroke-width="2.2"/>
<path d="M521.40 796.00 L528.90 808.30 L513.90 808.30 Z" fill="#fff" stroke="#057505" stroke-width="2.2"/>
<path d="M540.00 767.20 L547.50 779.50 L532.50 779.50 Z" fill="#fff" stroke="#057505" stroke-width="2.2"/>
<path d="M558.60 757.90 L566.10 770.20 L551.10 770.20 Z" fill="#fff" stroke="#057505" stroke-width="2.2"/>
<path d="M577.90 712.20 L585.40 724.50 L570.40 724.50 Z" fill="#fff" stroke="#057505" stroke-width="2.2"/>
<path d="M596.40 807.90 L603.90 820.20 L588.90 820.20 Z" fill="#fff" stroke="#057505" stroke-width="2.2"/>
<path d="M616.50 736.20 L624.00 748.50 L609.00 748.50 Z" fill="#fff" stroke="#057505" stroke-width="2.2"/>
<path d="M636.30 719.20 L643.80 731.50 L628.80 731.50 Z" fill="#fff" stroke="#057505" stroke-width="2.2"/>
<path d="M656.40 747.40 L663.90 759.70 L648.90 759.70 Z" fill="#fff" stroke="#057505" stroke-width="2.2"/>
<path d="M676.40 764.90 L683.90 777.20 L668.90 777.20 Z" fill="#fff" stroke="#057505" stroke-width="2.2"/>
<path d="M697.70 736.70 L705.20 749.00 L690.20 749.00 Z" fill="#fff" stroke="#057505" stroke-width="2.2"/>
<path d="M717.90 782.50 L725.40 794.80 L710.40 794.80 Z" fill="#fff" stroke="#057505" stroke-width="2.2"/>
<path d="M739.90 813.20 L747.40 825.50 L732.40 825.50 Z" fill="#fff" stroke="#057505" stroke-width="2.2"/>
<path d="M762.50 750.20 L770.00 762.50 L755.00 762.50 Z" fill="#fff" stroke="#057505" stroke-width="2.2"/>
<path d="M785.30 672.70 L792.80 685.00 L777.80 685.00 Z" fill="#fff" stroke="#057505" stroke-width="2.2"/>
<path d="M807.10 820.00 L814.60 832.30 L799.60 832.30 Z" fill="#fff" stroke="#057505" stroke-width="2.2"/>
<path d="M830.60 766.00 L838.10 778.30 L823.10 778.30 Z" fill="#fff" stroke="#057505" stroke-width="2.2"/>
<path d="M854.20 763.50 L861.70 775.80 L846.70 775.80 Z" fill="#fff" stroke="#057505" stroke-width="2.2"/>
<path d="M879.10 633.60 L886.60 645.90 L871.60 645.90 Z" fill="#fff" stroke="#057505" stroke-width="2.2"/>
<circle cx="169.70" cy="59.90" r="6.25" fill="none" stroke="#e02828" stroke-width="2.2"/>
<circle cx="182.70" cy="245.00" r="6.25" fill="none" stroke="#e02828" stroke-width="2.2"/>
<circle cx="195.10" cy="59.90" r="6.25" fill="none" stroke="#e02828" stroke-width="2.2"/>
<circle cx="209.20" cy="245.00" r="6.25" fill="none" stroke="#e02828" stroke-width="2.2"/>
<circle cx="222.60" cy="59.90" r="6.25" fill="none" stroke="#e02828" stroke-width="2.2"/>
<circle cx="236.00" cy="245.00" r="6.25" fill="none" stroke="#e02828" stroke-width="2.2"/>
<circle cx="250.30" cy="59.90" r="6.25" fill="none" stroke="#e02828" stroke-width="2.2"/>
<circle cx="264.80" cy="245.00" r="6.25" fill="none" stroke="#e02828" stroke-width="2.2"/>
<circle cx="278.40" cy="59.90" r="6.25" fill="none" stroke="#e02828" stroke-width="2.2"/>
<circle cx="293.30" cy="245.00" r="6.25" fill="none" stroke="#e02828" stroke-width="2.2"/>
<circle cx="308.10" cy="59.90" r="6.25" fill="none" stroke="#e02828" stroke-width="2.2"/>
<circle cx="323.80" cy="245.00" r="6.25" fill="none" stroke="#e02828" stroke-width="2.2"/>
<circle cx="338.30" cy="59.90" r="6.25" fill="none" stroke="#e02828" stroke-width="2.2"/>
<circle cx="353.60" cy="245.00" r="6.25" fill="none" stroke="#e02828" stroke-width="2.2"/>
<circle cx="370.00" cy="59.90" r="6.25" fill="none" stroke="#e02828" stroke-width="2.2"/>
<circle cx="385.90" cy="245.00" r="6.25" fill="none" stroke="#e02828" stroke-width="2.2"/>
<circle cx="401.60" cy="59.90" r="6.25" fill="none" stroke="#e02828" stroke-width="2.2"/>
<circle cx="418.10" cy="245.00" r="6.25" fill="none" stroke="#e02828" stroke-width="2.2"/>
<circle cx="434.60" cy="59.90" r="6.25" fill="none" stroke="#e02828" stroke-width="2.2"/>
<circle cx="451.60" cy="245.00" r="6.25" fill="none" stroke="#e02828" stroke-width="2.2"/>
<circle cx="467.70" cy="59.90" r="6.25" fill="none" stroke="#e02828" stroke-width="2.2"/>
<circle cx="486.10" cy="245.00" r="6.25" fill="none" stroke="#e02828" stroke-width="2.2"/>
<circle cx="504.30" cy="59.90" r="6.25" fill="none" stroke="#e02828" stroke-width="2.2"/>
<circle cx="521.40" cy="245.00" r="6.25" fill="none" stroke="#e02828" stroke-width="2.2"/>
<circle cx="540.00" cy="59.90" r="6.25" fill="none" stroke="#e02828" stroke-width="2.2"/>
<circle cx="558.60" cy="245.00" r="6.25" fill="none" stroke="#e02828" stroke-width="2.2"/>
<circle cx="577.90" cy="59.90" r="6.25" fill="none" stroke="#e02828" stroke-width="2.2"/>
<circle cx="596.40" cy="245.00" r="6.25" fill="none" stroke="#e02828" stroke-width="2.2"/>
<circle cx="616.50" cy="59.90" r="6.25" fill="none" stroke="#e02828" stroke-width="2.2"/>
<circle cx="636.30" cy="245.00" r="6.25" fill="none" stroke="#e02828" stroke-width="2.2"/>
<circle cx="656.40" cy="59.90" r="6.25" fill="none" stroke="#e02828" stroke-width="2.2"/>
<circle cx="676.40" cy="245.00" r="6.25" fill="none" stroke="#e02828" stroke-width="2.2"/>
<circle cx="697.70" cy="59.90" r="6.25" fill="none" stroke="#e02828" stroke-width="2.2"/>
<circle cx="717.90" cy="245.00" r="6.25" fill="none" stroke="#e02828" stroke-width="2.2"/>
<circle cx="739.90" cy="59.90" r="6.25" fill="none" stroke="#e02828" stroke-width="2.2"/>
<circle cx="762.50" cy="245.00" r="6.25" fill="none" stroke="#e02828" stroke-width="2.2"/>
<circle cx="785.30" cy="59.90" r="6.25" fill="none" stroke="#e02828" stroke-width="2.2"/>
<circle cx="807.10" cy="245.00" r="6.25" fill="none" stroke="#e02828" stroke-width="2.2"/>
<circle cx="830.60" cy="59.90" r="6.25" fill="none" stroke="#e02828" stroke-width="2.2"/>
<circle cx="854.20" cy="245.00" r="6.25" fill="none" stroke="#e02828" stroke-width="2.2"/>
<circle cx="879.10" cy="59.90" r="6.25" fill="none" stroke="#e02828" stroke-width="2.2"/>
<circle cx="901.30" cy="245.00" r="6.25" fill="none" stroke="#e02828" stroke-width="2.2"/>
<circle cx="929.60" cy="59.90" r="6.25" fill="none" stroke="#e02828" stroke-width="2.2"/>
<line x1="290.3" y1="22.70" x2="290.3" y2="301.30" stroke="#ff00ff" stroke-width="3" stroke-dasharray="4.6 9.29" stroke-linecap="round" clip-path="url(#ca)"/>
<line x1="290.3" y1="289.80" x2="290.3" y2="610.00" stroke="#ff00ff" stroke-width="3" stroke-dasharray="4.6 9.29" stroke-linecap="round" clip-path="url(#cb)"/>
<line x1="290.3" y1="609.10" x2="290.3" y2="887.60" stroke="#ff00ff" stroke-width="3" stroke-dasharray="4.6 9.29" stroke-linecap="round" clip-path="url(#cc)"/>
<path d="M167.10 13.60L939.20 13.60M167.10 291.30L939.20 291.30M167.10 291.30L939.20 291.30M167.10 600.00L939.20 600.00M167.10 600.00L939.20 600.00M167.10 877.60L939.20 877.60M167.10 1.90L167.10 889.30M939.20 1.90L939.20 889.30M167.10 13.60L167.10 1.90M167.10 291.30L167.10 303.00M167.10 291.30L167.10 279.60M167.10 600.00L167.10 611.70M167.10 600.00L167.10 588.30M167.10 877.60L167.10 889.30M244.31 13.60L244.31 7.80M244.31 291.30L244.31 297.10M244.31 291.30L244.31 285.50M244.31 600.00L244.31 605.80M244.31 600.00L244.31 594.20M244.31 877.60L244.31 883.40M321.52 13.60L321.52 1.90M321.52 291.30L321.52 303.00M321.52 291.30L321.52 279.60M321.52 600.00L321.52 611.70M321.52 600.00L321.52 588.30M321.52 877.60L321.52 889.30M398.73 13.60L398.73 7.80M398.73 291.30L398.73 297.10M398.73 291.30L398.73 285.50M398.73 600.00L398.73 605.80M398.73 600.00L398.73 594.20M398.73 877.60L398.73 883.40M475.94 13.60L475.94 1.90M475.94 291.30L475.94 303.00M475.94 291.30L475.94 279.60M475.94 600.00L475.94 611.70M475.94 600.00L475.94 588.30M475.94 877.60L475.94 889.30M553.15 13.60L553.15 7.80M553.15 291.30L553.15 297.10M553.15 291.30L553.15 285.50M553.15 600.00L553.15 605.80M553.15 600.00L553.15 594.20M553.15 877.60L553.15 883.40M630.36 13.60L630.36 1.90M630.36 291.30L630.36 303.00M630.36 291.30L630.36 279.60M630.36 600.00L630.36 611.70M630.36 600.00L630.36 588.30M630.36 877.60L630.36 889.30M707.57 13.60L707.57 7.80M707.57 291.30L707.57 297.10M707.57 291.30L707.57 285.50M707.57 600.00L707.57 605.80M707.57 600.00L707.57 594.20M707.57 877.60L707.57 883.40M784.78 13.60L784.78 1.90M784.78 291.30L784.78 303.00M784.78 291.30L784.78 279.60M784.78 600.00L784.78 611.70M784.78 600.00L784.78 588.30M784.78 877.60L784.78 889.30M861.99 13.60L861.99 7.80M861.99 291.30L861.99 297.10M861.99 291.30L861.99 285.50M861.99 600.00L861.99 605.80M861.99 600.00L861.99 594.20M861.99 877.60L861.99 883.40M939.20 13.60L939.20 1.90M939.20 291.30L939.20 303.00M939.20 291.30L939.20 279.60M939.20 600.00L939.20 611.70M939.20 600.00L939.20 588.30M939.20 877.60L939.20 889.30M167.10 13.60L155.40 13.60M939.20 13.60L950.90 13.60M167.10 36.74L161.30 36.74M939.20 36.74L945.00 36.74M167.10 59.88L155.40 59.88M939.20 59.88L950.90 59.88M167.10 83.02L161.30 83.02M939.20 83.02L945.00 83.02M167.10 106.17L155.40 106.17M939.20 106.17L950.90 106.17M167.10 129.31L161.30 129.31M939.20 129.31L945.00 129.31M167.10 152.45L155.40 152.45M939.20 152.45L950.90 152.45M167.10 175.59L161.30 175.59M939.20 175.59L945.00 175.59M167.10 198.73L155.40 198.73M939.20 198.73L950.90 198.73M167.10 221.87L161.30 221.87M939.20 221.87L945.00 221.87M167.10 245.02L155.40 245.02M939.20 245.02L950.90 245.02M167.10 268.16L161.30 268.16M939.20 268.16L945.00 268.16M167.10 291.30L155.40 291.30M939.20 291.30L950.90 291.30M167.10 600.00L161.30 600.00M939.20 600.00L945.00 600.00M167.10 577.95L155.40 577.95M939.20 577.95L950.90 577.95M167.10 555.90L161.30 555.90M939.20 555.90L945.00 555.90M167.10 533.85L155.40 533.85M939.20 533.85L950.90 533.85M167.10 511.80L161.30 511.80M939.20 511.80L945.00 511.80M167.10 489.75L155.40 489.75M939.20 489.75L950.90 489.75M167.10 467.70L161.30 467.70M939.20 467.70L945.00 467.70M167.10 445.65L155.40 445.65M939.20 445.65L950.90 445.65M167.10 423.60L161.30 423.60M939.20 423.60L945.00 423.60M167.10 401.55L155.40 401.55M939.20 401.55L950.90 401.55M167.10 379.50L161.30 379.50M939.20 379.50L945.00 379.50M167.10 357.45L155.40 357.45M939.20 357.45L950.90 357.45M167.10 335.40L161.30 335.40M939.20 335.40L945.00 335.40M167.10 313.35L155.40 313.35M939.20 313.35L950.90 313.35M167.10 291.30L161.30 291.30M939.20 291.30L945.00 291.30M167.10 877.60L161.30 877.60M939.20 877.60L945.00 877.60M167.10 842.90L155.40 842.90M939.20 842.90L950.90 842.90M167.10 808.20L161.30 808.20M939.20 808.20L945.00 808.20M167.10 773.50L161.30 773.50M939.20 773.50L945.00 773.50M167.10 738.80L155.40 738.80M939.20 738.80L950.90 738.80M167.10 704.10L161.30 704.10M939.20 704.10L945.00 704.10M167.10 669.40L161.30 669.40M939.20 669.40L945.00 669.40M167.10 634.70L155.40 634.70M939.20 634.70L950.90 634.70M167.10 600.00L161.30 600.00M939.20 600.00L945.00 600.00" stroke="#000" stroke-width="2" fill="none" stroke-linecap="butt"/>
<text transform="translate(147.00 587.35) scale(1 1.04)" font-size="31.5" text-anchor="end">52</text>
<text transform="translate(147.00 543.25) scale(1 1.04)" font-size="31.5" text-anchor="end">56</text>
<text transform="translate(147.00 499.15) scale(1 1.04)" font-size="31.5" text-anchor="end">60</text>
<text transform="translate(147.00 455.05) scale(1 1.04)" font-size="31.5" text-anchor="end">64</text>
<text transform="translate(147.00 410.95) scale(1 1.04)" font-size="31.5" text-anchor="end">68</text>
<text transform="translate(147.00 366.85) scale(1 1.04)" font-size="31.5" text-anchor="end">72</text>
<text transform="translate(147.00 322.75) scale(1 1.04)" font-size="31.5" text-anchor="end">76</text>
<text transform="translate(147.00 644.10) scale(1 1.04)" font-size="31.5" text-anchor="end">1.0006</text>
<text transform="translate(147.00 748.20) scale(1 1.04)" font-size="31.5" text-anchor="end">1.0003</text>
<text transform="translate(147.00 852.30) scale(1 1.04)" font-size="31.5" text-anchor="end">1.0000</text>
<text transform="translate(167.10 922.40) scale(1 1.04)" font-size="31.5" text-anchor="middle">500</text>
<text transform="translate(321.52 922.40) scale(1 1.04)" font-size="31.5" text-anchor="middle">540</text>
<text transform="translate(475.94 922.40) scale(1 1.04)" font-size="31.5" text-anchor="middle">580</text>
<text transform="translate(630.36 922.40) scale(1 1.04)" font-size="31.5" text-anchor="middle">620</text>
<text transform="translate(784.78 922.40) scale(1 1.04)" font-size="31.5" text-anchor="middle">660</text>
<text transform="translate(939.20 922.40) scale(1 1.04)" font-size="31.5" text-anchor="middle">700</text>
<text transform="translate(552.60 978.80) scale(1 1.04)" font-size="37.6" text-anchor="middle">Wavelength (nm)</text>
<text transform="translate(131.90 151.20) rotate(-90) scale(1 1.04)" font-size="37.6" text-anchor="middle">Intensity (a.u.)</text>
<text transform="translate(97.60 444.40) rotate(-90) scale(1 1.04)" font-size="37.3" text-anchor="middle">Interference order</text>
<text transform="translate(36.60 738.40) rotate(-90) scale(1 1.04)" font-size="37.2" text-anchor="middle">Refractive index</text>
<text transform="translate(170.60 43.20) scale(1 1.04)" font-size="31.5">(a)</text>
<text transform="translate(170.60 321.10) scale(1 1.04)" font-size="31.5">(b)</text>
<text transform="translate(170.60 629.10) scale(1 1.04)" font-size="31.5">(c)</text>
<line x1="604.6" y1="314.5" x2="651.8" y2="314.5" stroke="#000" stroke-width="3" stroke-linecap="round"/>
<rect x="625.3" y="311.4" width="6" height="6" fill="#fff" stroke="#000" stroke-width="1.2"/>
<text transform="translate(657.20 321.70) scale(1 1.04)" font-size="21.7">Normalized fringe spectrum</text>
<circle cx="628.2" cy="340.3" r="6.5" fill="none" stroke="#e02828" stroke-width="1.9"/>
<text transform="translate(657.20 347.70) scale(1 1.04)" font-size="21.7">Min/max peak positions</text>
<line x1="604.4" y1="370.1" x2="651.3" y2="370.1" stroke="#0000ff" stroke-width="2.7" stroke-linecap="round"/>
<path d="M628.20 361.30 L635.80 375.00 L620.60 375.00 Z" fill="#fff" stroke="#0000ff" stroke-width="1.6"/>
<text transform="translate(657.20 377.30) scale(1 1.04)" font-size="21.7">Interference order</text>
<line x1="604.6" y1="396.3" x2="652" y2="396.3" stroke="#ff00ff" stroke-width="3" stroke-dasharray="4.5 9.4" stroke-linecap="round"/>
<text transform="translate(657.20 402.70) scale(1 1.04)" font-size="21.7">Laser</text>
<line x1="578.1" y1="617" x2="626.8" y2="617" stroke="#0b720b" stroke-width="1.5"/>
<path d="M602.50 608.50 L610.10 621.70 L594.90 621.70 Z" fill="#fff" stroke="#057505" stroke-width="1.5"/>
<text transform="translate(638.70 623.80) scale(1 1.04)" font-size="21.7">This stduy</text>
<line x1="578.8" y1="643.1" x2="626.5" y2="643.1" stroke="#0000ff" stroke-width="5.4" stroke-linecap="round"/>
<text transform="translate(638.70 650.30) scale(1 1.04)" font-size="21.7">Ciddor (1996)</text>
</svg></body></html>
